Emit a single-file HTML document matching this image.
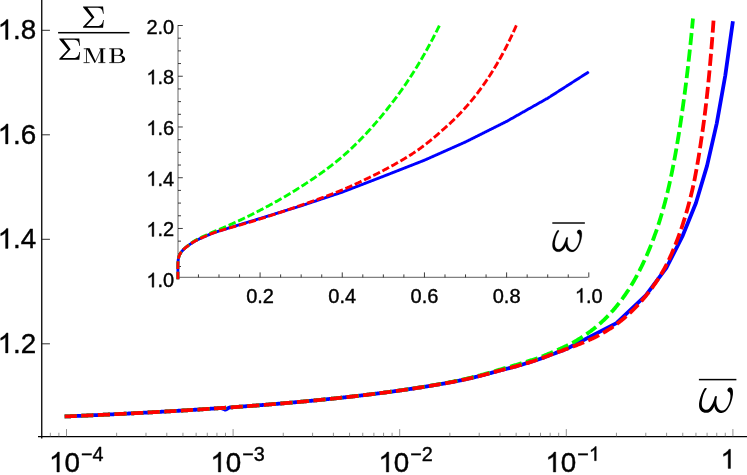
<!DOCTYPE html>
<html><head><meta charset="utf-8"><title>plot</title>
<style>html,body{margin:0;padding:0;background:#fff;}body{width:747px;height:475px;overflow:hidden;font-family:"Liberation Sans",sans-serif;}</style>
</head><body>
<svg width="747" height="475" viewBox="0 0 747 475" style="display:block">
<rect width="747" height="475" fill="#fff"/>
<g stroke="#000" stroke-width="1.3" fill="none"><line x1="41.75" y1="0" x2="41.75" y2="438.4"/><line x1="38" y1="436.65" x2="747" y2="436.65"/></g>
<g stroke="#5a5a5a" stroke-width="0.65" fill="none"><line x1="50.35" y1="436.65" x2="50.35" y2="432.75"/><line x1="58.88" y1="436.65" x2="58.88" y2="432.75"/><line x1="66.50" y1="436.65" x2="66.50" y2="429.05"/><line x1="116.65" y1="436.65" x2="116.65" y2="432.75"/><line x1="145.99" y1="436.65" x2="145.99" y2="432.75"/><line x1="166.80" y1="436.65" x2="166.80" y2="432.75"/><line x1="182.95" y1="436.65" x2="182.95" y2="432.75"/><line x1="196.14" y1="436.65" x2="196.14" y2="432.75"/><line x1="207.29" y1="436.65" x2="207.29" y2="432.75"/><line x1="216.95" y1="436.65" x2="216.95" y2="432.75"/><line x1="225.48" y1="436.65" x2="225.48" y2="432.75"/><line x1="233.10" y1="436.65" x2="233.10" y2="429.05"/><line x1="283.25" y1="436.65" x2="283.25" y2="432.75"/><line x1="312.59" y1="436.65" x2="312.59" y2="432.75"/><line x1="333.40" y1="436.65" x2="333.40" y2="432.75"/><line x1="349.55" y1="436.65" x2="349.55" y2="432.75"/><line x1="362.74" y1="436.65" x2="362.74" y2="432.75"/><line x1="373.89" y1="436.65" x2="373.89" y2="432.75"/><line x1="383.55" y1="436.65" x2="383.55" y2="432.75"/><line x1="392.08" y1="436.65" x2="392.08" y2="432.75"/><line x1="399.70" y1="436.65" x2="399.70" y2="429.05"/><line x1="449.85" y1="436.65" x2="449.85" y2="432.75"/><line x1="479.19" y1="436.65" x2="479.19" y2="432.75"/><line x1="500.00" y1="436.65" x2="500.00" y2="432.75"/><line x1="516.15" y1="436.65" x2="516.15" y2="432.75"/><line x1="529.34" y1="436.65" x2="529.34" y2="432.75"/><line x1="540.49" y1="436.65" x2="540.49" y2="432.75"/><line x1="550.15" y1="436.65" x2="550.15" y2="432.75"/><line x1="558.68" y1="436.65" x2="558.68" y2="432.75"/><line x1="566.30" y1="436.65" x2="566.30" y2="429.05"/><line x1="616.45" y1="436.65" x2="616.45" y2="432.75"/><line x1="645.79" y1="436.65" x2="645.79" y2="432.75"/><line x1="666.60" y1="436.65" x2="666.60" y2="432.75"/><line x1="682.75" y1="436.65" x2="682.75" y2="432.75"/><line x1="695.94" y1="436.65" x2="695.94" y2="432.75"/><line x1="707.09" y1="436.65" x2="707.09" y2="432.75"/><line x1="716.75" y1="436.65" x2="716.75" y2="432.75"/><line x1="725.28" y1="436.65" x2="725.28" y2="432.75"/><line x1="732.90" y1="436.65" x2="732.90" y2="429.05"/></g>
<g stroke="#1a1a1a" stroke-width="0.9" fill="none"><line x1="41.75" y1="343.80" x2="49.95" y2="343.80"/><line x1="41.75" y1="239.30" x2="49.95" y2="239.30"/><line x1="41.75" y1="134.80" x2="49.95" y2="134.80"/><line x1="41.75" y1="30.30" x2="49.95" y2="30.30"/></g>
<g fill="none" stroke-width="3.8" stroke-linejoin="round">
<path d="M64.67,416.50 L65.41,416.47 L66.15,416.44 L66.90,416.40 L67.64,416.37 L68.38,416.34 L69.13,416.31 L69.87,416.28 L70.61,416.24 L71.36,416.21 L72.10,416.18 L72.84,416.15 L73.59,416.11 L74.33,416.08 L75.07,416.05 L75.82,416.02 L76.56,415.98 L77.30,415.95 L78.05,415.92 L78.79,415.89 L79.53,415.85 L80.28,415.82 L81.02,415.79 L81.76,415.75 L82.51,415.72 L83.25,415.69 L83.99,415.65 L84.74,415.62 L85.48,415.59 L86.22,415.55 L86.97,415.52 L87.71,415.49 L88.45,415.45 L89.20,415.42 L89.94,415.38 L90.68,415.35 L91.43,415.32 L92.17,415.28 L92.91,415.25 L93.66,415.21 L94.40,415.18 L95.14,415.14 L95.89,415.11 L96.63,415.07 L97.37,415.04 L98.12,415.01 L98.86,414.97 L99.60,414.94 L100.35,414.90 L101.09,414.87 L101.83,414.83 L102.58,414.80 L103.32,414.76 L104.06,414.72 L104.81,414.69 L105.55,414.65 L106.29,414.62 L107.04,414.58 L107.78,414.55 L108.52,414.51 L109.27,414.48 L110.01,414.44 L110.75,414.40 L111.50,414.37 L112.24,414.33 L112.98,414.29 L113.73,414.26 L114.47,414.22 L115.21,414.19 L115.96,414.15 L116.70,414.11 L117.44,414.08 L118.19,414.04 L118.93,414.00 L119.67,413.97 L120.42,413.93 L121.16,413.89 L121.90,413.85 L122.65,413.82 L123.39,413.78 L124.13,413.74 L124.88,413.70 L125.62,413.67 L126.36,413.63 L127.11,413.59 L127.85,413.55 L128.59,413.52 L129.34,413.48 L130.08,413.44 L130.82,413.40 L131.57,413.36 L132.31,413.32 L133.05,413.29 L133.80,413.25 L134.54,413.21 L135.28,413.17 L136.03,413.13 L136.77,413.09 L137.51,413.05 L138.26,413.01 L139.00,412.98 L139.74,412.94 L140.49,412.90 L141.23,412.86 L141.97,412.82 L142.72,412.78 L143.46,412.74 L144.20,412.70 L144.95,412.66 L145.69,412.62 L146.43,412.58 L147.18,412.54 L147.92,412.50 L148.66,412.46 L149.41,412.42 L150.15,412.38 L150.89,412.34 L151.63,412.30 L152.38,412.26 L153.12,412.22 L153.86,412.17 L154.61,412.13 L155.35,412.09 L156.09,412.05 L156.84,412.01 L157.58,411.97 L158.32,411.93 L159.07,411.89 L159.81,411.84 L160.55,411.80 L161.30,411.76 L162.04,411.72 L162.78,411.68 L163.53,411.63 L164.27,411.59 L165.01,411.55 L165.76,411.51 L166.50,411.46 L167.24,411.42 L167.99,411.38 L168.73,411.34 L169.47,411.29 L170.22,411.25 L170.96,411.21 L171.70,411.16 L172.45,411.12 L173.19,411.08 L173.93,411.03 L174.68,410.99 L175.42,410.95 L176.16,410.90 L176.91,410.86 L177.65,410.82 L178.39,410.77 L179.14,410.73 L179.88,410.68 L180.62,410.64 L181.37,410.59 L182.11,410.55 L182.85,410.50 L183.60,410.46 L184.34,410.41 L185.08,410.37 L185.83,410.32 L186.57,410.28 L187.31,410.23 L188.06,410.19 L188.80,410.14 L189.54,410.10 L190.29,410.05 L191.03,410.00 L191.77,409.96 L192.52,409.91 L193.26,409.87 L194.00,409.82 L194.75,409.77 L195.49,409.73 L196.23,409.68 L196.98,409.63 L197.72,409.59 L198.46,409.54 L199.21,409.49 L199.95,409.44 L200.69,409.40 L201.44,409.35 L202.18,409.30 L202.92,409.25 L203.67,409.21 L204.41,409.16 L205.15,409.11 L205.90,409.06 L206.64,409.01 L207.38,408.96 L208.13,408.92 L208.87,408.87 L209.61,408.82 L210.36,408.77 L211.10,408.72 L211.84,408.67 L212.59,408.62 L213.33,408.57 L214.07,408.52 L214.82,408.47 L215.56,408.42 L216.30,408.37 L217.05,408.32 L217.79,408.27 L218.53,408.22 L219.28,408.17 L220.02,408.12 L220.76,408.07 L221.51,408.07 L222.25,408.39 L222.99,408.71 L223.74,409.03 L224.48,409.35 L225.22,409.67 L225.97,409.43 L226.71,409.01 L227.45,408.58 L228.20,408.16 L228.94,407.73 L229.68,407.45 L230.43,407.40 L231.17,407.35 L231.91,407.29 L232.66,407.24 L233.40,407.19 L234.14,407.14 L234.89,407.08 L235.63,407.03 L236.37,406.98 L237.12,406.92 L237.86,406.87 L238.60,406.81 L239.35,406.76 L240.09,406.71 L240.83,406.65 L241.57,406.60 L242.32,406.54 L243.06,406.49 L243.80,406.43 L244.55,406.38 L245.29,406.32 L246.03,406.27 L246.78,406.21 L247.52,406.16 L248.26,406.10 L249.01,406.04 L249.75,405.99 L250.49,405.93 L251.24,405.87 L251.98,405.82 L252.72,405.76 L253.47,405.70 L254.21,405.65 L254.95,405.59 L255.70,405.53 L256.44,405.48 L257.18,405.42 L257.93,405.36 L258.67,405.30 L259.41,405.24 L260.16,405.19 L260.90,405.13 L261.64,405.07 L262.39,405.01 L263.13,404.95 L263.87,404.89 L264.62,404.83 L265.36,404.77 L266.10,404.71 L266.85,404.65 L267.59,404.59 L268.33,404.53 L269.08,404.47 L269.82,404.41 L270.56,404.35 L271.31,404.29 L272.05,404.23 L272.79,404.17 L273.54,404.11 L274.28,404.05 L275.02,403.99 L275.77,403.93 L276.51,403.86 L277.25,403.80 L278.00,403.74 L278.74,403.68 L279.48,403.61 L280.23,403.55 L280.97,403.49 L281.71,403.43 L282.46,403.36 L283.20,403.30 L283.94,403.24 L284.69,403.17 L285.43,403.11 L286.17,403.04 L286.92,402.98 L287.66,402.91 L288.40,402.85 L289.15,402.78 L289.89,402.72 L290.63,402.65 L291.38,402.59 L292.12,402.52 L292.86,402.46 L293.61,402.39 L294.35,402.32 L295.09,402.26 L295.84,402.19 L296.58,402.13 L297.32,402.06 L298.07,401.99 L298.81,401.92 L299.55,401.86 L300.30,401.79 L301.04,401.72 L301.78,401.65 L302.53,401.58 L303.27,401.52 L304.01,401.45 L304.76,401.38 L305.50,401.31 L306.24,401.24 L306.99,401.17 L307.73,401.10 L308.47,401.03 L309.22,400.96 L309.96,400.89 L310.70,400.82 L311.45,400.75 L312.19,400.68 L312.93,400.60 L313.68,400.53 L314.42,400.46 L315.16,400.39 L315.91,400.32 L316.65,400.25 L317.39,400.17 L318.14,400.10 L318.88,400.03 L319.62,399.95 L320.37,399.88 L321.11,399.81 L321.85,399.73 L322.60,399.66 L323.34,399.58 L324.08,399.51 L324.83,399.43 L325.57,399.36 L326.31,399.28 L327.06,399.21 L327.80,399.13 L328.54,399.06 L329.29,398.98 L330.03,398.90 L330.77,398.83 L331.51,398.75 L332.26,398.67 L333.00,398.60 L333.74,398.52 L334.49,398.44 L335.23,398.36 L335.97,398.28 L336.72,398.21 L337.46,398.13 L338.20,398.05 L338.95,397.97 L339.69,397.89 L340.43,397.81 L341.18,397.73 L341.92,397.65 L342.66,397.57 L343.41,397.49 L344.15,397.41 L344.89,397.32 L345.64,397.24 L346.38,397.16 L347.12,397.08 L347.87,397.00 L348.61,396.91 L349.35,396.83 L350.10,396.75 L350.84,396.66 L351.58,396.58 L352.33,396.50 L353.07,396.41 L353.81,396.33 L354.56,396.24 L355.30,396.16 L356.04,396.07 L356.79,395.99 L357.53,395.90 L358.27,395.81 L359.02,395.73 L359.76,395.64 L360.50,395.55 L361.25,395.47 L361.99,395.38 L362.73,395.29 L363.48,395.20 L364.22,395.11 L364.96,395.02 L365.71,394.93 L366.45,394.84 L367.19,394.75 L367.94,394.66 L368.68,394.57 L369.42,394.48 L370.17,394.39 L370.91,394.30 L371.65,394.21 L372.40,394.12 L373.14,394.03 L373.88,393.93 L374.63,393.84 L375.37,393.75 L376.11,393.65 L376.86,393.56 L377.60,393.47 L378.34,393.37 L379.09,393.28 L379.83,393.18 L380.57,393.09 L381.32,392.99 L382.06,392.89 L382.80,392.80 L383.55,392.70 L384.29,392.60 L385.03,392.51 L385.78,392.41 L386.52,392.31 L387.26,392.21 L388.01,392.11 L388.75,392.01 L389.49,391.91 L390.24,391.81 L390.98,391.71 L391.72,391.61 L392.47,391.51 L393.21,391.41 L393.95,391.31 L394.70,391.21 L395.44,391.10 L396.18,391.00 L396.93,390.90 L397.67,390.79 L398.41,390.69 L399.16,390.59 L399.90,390.48 L400.64,390.38 L401.39,390.27 L402.13,390.16 L402.87,390.06 L403.62,389.95 L404.36,389.84 L405.10,389.74 L405.85,389.63 L406.59,389.52 L407.33,389.41 L408.08,389.30 L408.82,389.19 L409.56,389.08 L410.31,388.97 L411.05,388.86 L411.79,388.75 L412.54,388.64 L413.28,388.53 L414.02,388.42 L414.77,388.30 L415.51,388.19 L416.25,388.08 L417.00,387.96 L417.74,387.85 L418.48,387.73 L419.22,387.62 L419.97,387.50 L420.71,387.39 L421.45,387.27 L422.20,387.15 L422.94,387.03 L423.68,386.92 L424.43,386.80 L425.17,386.68 L425.91,386.56 L426.66,386.44 L427.40,386.32 L428.14,386.20 L428.89,386.08 L429.63,385.96 L430.37,385.83 L431.12,385.71 L431.86,385.59 L432.60,385.46 L433.35,385.34 L434.09,385.22 L434.83,385.09 L435.58,384.96 L436.32,384.84 L437.06,384.71 L437.81,384.58 L438.55,384.46 L439.29,384.33 L440.04,384.20 L440.78,384.07 L441.52,383.94 L442.27,383.81 L443.01,383.68 L443.75,383.55 L444.50,383.42 L445.24,383.29 L445.98,383.15 L446.73,383.02 L447.47,382.88 L448.21,382.75 L448.96,382.62 L449.70,382.48 L450.44,382.34 L451.19,382.20 L451.93,382.06 L452.67,381.92 L453.42,381.77 L454.16,381.63 L454.90,381.48 L455.65,381.34 L456.39,381.19 L457.13,381.04 L457.88,380.89 L458.62,380.74 L459.36,380.59 L460.11,380.43 L460.85,380.28 L461.59,380.12 L462.34,379.96 L463.08,379.81 L463.82,379.65 L464.57,379.49 L465.31,379.32 L466.05,379.16 L466.80,379.00 L467.54,378.83 L468.28,378.66 L469.03,378.50 L469.77,378.33 L470.51,378.16 L471.26,377.98 L472.00,377.81 L472.74,377.64 L473.49,377.46 L474.23,377.29 L474.97,377.11 L475.72,376.93 L476.46,376.75 L477.20,376.57 L477.95,376.39 L478.69,376.21 L479.43,376.02 L480.18,375.84 L480.92,375.65 L481.66,375.46 L482.41,375.27 L483.15,375.07 L483.89,374.88 L484.64,374.68 L485.38,374.48 L486.12,374.28 L486.87,374.08 L487.61,373.87 L488.35,373.67 L489.10,373.46 L489.84,373.26 L490.58,373.05 L491.33,372.84 L492.07,372.64 L492.81,372.43 L493.56,372.22 L494.30,372.01 L495.04,371.80 L495.79,371.60 L496.53,371.39 L497.27,371.19 L498.02,370.98 L498.76,370.78 L499.50,370.58 L500.25,370.38 L500.99,370.19 L501.73,369.99 L502.48,369.80 L503.22,369.61 L503.96,369.42 L504.71,369.23 L505.45,369.04 L506.19,368.85 L506.94,368.66 L507.68,368.48 L508.42,368.29 L509.16,368.10 L509.91,367.91 L510.65,367.72 L511.39,367.53 L512.14,367.34 L512.88,367.15 L513.62,366.95 L514.37,366.75 L515.11,366.55 L515.85,366.35 L516.60,366.14 L517.34,365.93 L518.08,365.72 L518.83,365.51 L519.57,365.29 L520.31,365.08 L521.06,364.86 L521.80,364.64 L522.54,364.42 L523.29,364.20 L524.03,363.98 L524.77,363.76 L525.52,363.53 L526.26,363.30 L527.00,363.08 L527.75,362.85 L528.49,362.61 L529.23,362.38 L529.98,362.15 L530.72,361.91 L531.46,361.68 L532.21,361.44 L532.95,361.21 L533.69,360.97 L534.44,360.73 L535.18,360.49 L535.92,360.24 L536.67,360.00 L537.41,359.75 L538.15,359.50 L538.90,359.25 L539.64,358.99 L540.38,358.73 L541.13,358.46 L541.87,358.19 L542.61,357.92 L543.36,357.64 L544.10,357.36 L544.84,357.07 L545.59,356.79 L546.33,356.50 L547.07,356.21 L547.82,355.92 L548.56,355.64 L549.30,355.35 L550.05,355.07 L550.79,354.80 L551.53,354.52 L552.28,354.25 L553.02,353.98 L553.76,353.70 L554.51,353.43 L555.25,353.16 L555.99,352.89 L556.74,352.62 L557.48,352.34 L558.22,352.07 L558.97,351.79 L559.71,351.51 L560.45,351.23 L561.20,350.96 L561.94,350.68 L562.68,350.40 L563.43,350.12 L564.17,349.84 L564.91,349.55 L565.66,349.27 L566.30,349.03 L616.45,323.16 L645.79,295.47 L666.60,267.51 L682.75,235.54 L695.94,202.99 L707.09,165.63 L716.75,123.30 L725.28,75.50 L732.90,21.31" stroke="#0000ff"/>
<path d="M64.67,416.50 L65.41,416.47 L66.15,416.44 L66.90,416.40 L67.64,416.37 L68.38,416.34 L69.13,416.31 L69.87,416.28 L70.61,416.24 L71.36,416.21 L72.10,416.18 L72.84,416.15 L73.59,416.11 L74.33,416.08 L75.07,416.05 L75.82,416.02 L76.56,415.98 L77.30,415.95 L78.05,415.92 L78.79,415.89 L79.53,415.85 L80.28,415.82 L81.02,415.79 L81.76,415.75 L82.51,415.72 L83.25,415.69 L83.99,415.65 L84.74,415.62 L85.48,415.59 L86.22,415.55 L86.97,415.52 L87.71,415.49 L88.45,415.45 L89.20,415.42 L89.94,415.38 L90.68,415.35 L91.43,415.32 L92.17,415.28 L92.91,415.25 L93.66,415.21 L94.40,415.18 L95.14,415.14 L95.89,415.11 L96.63,415.07 L97.37,415.04 L98.12,415.01 L98.86,414.97 L99.60,414.94 L100.35,414.90 L101.09,414.87 L101.83,414.83 L102.58,414.80 L103.32,414.76 L104.06,414.72 L104.81,414.69 L105.55,414.65 L106.29,414.62 L107.04,414.58 L107.78,414.55 L108.52,414.51 L109.27,414.48 L110.01,414.44 L110.75,414.40 L111.50,414.37 L112.24,414.33 L112.98,414.29 L113.73,414.26 L114.47,414.22 L115.21,414.19 L115.96,414.15 L116.70,414.11 L117.44,414.08 L118.19,414.04 L118.93,414.00 L119.67,413.97 L120.42,413.93 L121.16,413.89 L121.90,413.85 L122.65,413.82 L123.39,413.78 L124.13,413.74 L124.88,413.70 L125.62,413.67 L126.36,413.63 L127.11,413.59 L127.85,413.55 L128.59,413.52 L129.34,413.48 L130.08,413.44 L130.82,413.40 L131.57,413.36 L132.31,413.32 L133.05,413.29 L133.80,413.25 L134.54,413.21 L135.28,413.17 L136.03,413.13 L136.77,413.09 L137.51,413.05 L138.26,413.01 L139.00,412.98 L139.74,412.94 L140.49,412.90 L141.23,412.86 L141.97,412.82 L142.72,412.78 L143.46,412.74 L144.20,412.70 L144.95,412.66 L145.69,412.62 L146.43,412.58 L147.18,412.54 L147.92,412.50 L148.66,412.46 L149.41,412.42 L150.15,412.38 L150.89,412.34 L151.63,412.30 L152.38,412.26 L153.12,412.22 L153.86,412.17 L154.61,412.13 L155.35,412.09 L156.09,412.05 L156.84,412.01 L157.58,411.97 L158.32,411.93 L159.07,411.89 L159.81,411.84 L160.55,411.80 L161.30,411.76 L162.04,411.72 L162.78,411.68 L163.53,411.63 L164.27,411.59 L165.01,411.55 L165.76,411.51 L166.50,411.46 L167.24,411.42 L167.99,411.38 L168.73,411.34 L169.47,411.29 L170.22,411.25 L170.96,411.21 L171.70,411.16 L172.45,411.12 L173.19,411.08 L173.93,411.03 L174.68,410.99 L175.42,410.95 L176.16,410.90 L176.91,410.86 L177.65,410.81 L178.39,410.77 L179.14,410.73 L179.88,410.68 L180.62,410.64 L181.37,410.59 L182.11,410.55 L182.85,410.50 L183.60,410.46 L184.34,410.41 L185.08,410.37 L185.83,410.32 L186.57,410.28 L187.31,410.23 L188.06,410.19 L188.80,410.14 L189.54,410.10 L190.29,410.05 L191.03,410.00 L191.77,409.96 L192.52,409.91 L193.26,409.87 L194.00,409.82 L194.75,409.77 L195.49,409.73 L196.23,409.68 L196.98,409.63 L197.72,409.59 L198.46,409.54 L199.21,409.49 L199.95,409.44 L200.69,409.40 L201.44,409.35 L202.18,409.30 L202.92,409.25 L203.67,409.21 L204.41,409.16 L205.15,409.11 L205.90,409.06 L206.64,409.01 L207.38,408.96 L208.13,408.92 L208.87,408.87 L209.61,408.82 L210.36,408.77 L211.10,408.72 L211.84,408.67 L212.59,408.62 L213.33,408.57 L214.07,408.52 L214.82,408.47 L215.56,408.42 L216.30,408.37 L217.05,408.32 L217.79,408.27 L218.53,408.22 L219.28,408.17 L220.02,408.12 L220.76,408.07 L221.51,408.02 L222.25,407.97 L222.99,407.92 L223.74,407.87 L224.48,407.81 L225.22,407.76 L225.97,407.71 L226.71,407.66 L227.45,407.61 L228.20,407.56 L228.94,407.50 L229.68,407.45 L230.43,407.40 L231.17,407.35 L231.91,407.29 L232.66,407.24 L233.40,407.19 L234.14,407.13 L234.89,407.08 L235.63,407.03 L236.37,406.97 L237.12,406.92 L237.86,406.87 L238.60,406.81 L239.35,406.76 L240.09,406.70 L240.83,406.65 L241.57,406.60 L242.32,406.54 L243.06,406.49 L243.80,406.43 L244.55,406.38 L245.29,406.32 L246.03,406.27 L246.78,406.21 L247.52,406.15 L248.26,406.10 L249.01,406.04 L249.75,405.99 L250.49,405.93 L251.24,405.87 L251.98,405.82 L252.72,405.76 L253.47,405.70 L254.21,405.65 L254.95,405.59 L255.70,405.53 L256.44,405.47 L257.18,405.42 L257.93,405.36 L258.67,405.30 L259.41,405.24 L260.16,405.18 L260.90,405.13 L261.64,405.07 L262.39,405.01 L263.13,404.95 L263.87,404.89 L264.62,404.83 L265.36,404.77 L266.10,404.71 L266.85,404.65 L267.59,404.59 L268.33,404.53 L269.08,404.47 L269.82,404.41 L270.56,404.35 L271.31,404.29 L272.05,404.23 L272.79,404.17 L273.54,404.11 L274.28,404.05 L275.02,403.99 L275.77,403.92 L276.51,403.86 L277.25,403.80 L278.00,403.74 L278.74,403.67 L279.48,403.61 L280.23,403.55 L280.97,403.49 L281.71,403.42 L282.46,403.36 L283.20,403.30 L283.94,403.23 L284.69,403.17 L285.43,403.10 L286.17,403.04 L286.92,402.98 L287.66,402.91 L288.40,402.85 L289.15,402.78 L289.89,402.72 L290.63,402.65 L291.38,402.59 L292.12,402.52 L292.86,402.45 L293.61,402.39 L294.35,402.32 L295.09,402.26 L295.84,402.19 L296.58,402.12 L297.32,402.05 L298.07,401.99 L298.81,401.92 L299.55,401.85 L300.30,401.78 L301.04,401.72 L301.78,401.65 L302.53,401.58 L303.27,401.51 L304.01,401.44 L304.76,401.37 L305.50,401.30 L306.24,401.23 L306.99,401.16 L307.73,401.09 L308.47,401.02 L309.22,400.95 L309.96,400.88 L310.70,400.81 L311.45,400.74 L312.19,400.67 L312.93,400.60 L313.68,400.53 L314.42,400.46 L315.16,400.38 L315.91,400.31 L316.65,400.24 L317.39,400.17 L318.14,400.09 L318.88,400.02 L319.62,399.95 L320.37,399.87 L321.11,399.80 L321.85,399.73 L322.60,399.65 L323.34,399.58 L324.08,399.50 L324.83,399.43 L325.57,399.35 L326.31,399.28 L327.06,399.20 L327.80,399.12 L328.54,399.05 L329.29,398.97 L330.03,398.90 L330.77,398.82 L331.51,398.74 L332.26,398.66 L333.00,398.59 L333.74,398.51 L334.49,398.43 L335.23,398.35 L335.97,398.27 L336.72,398.19 L337.46,398.12 L338.20,398.04 L338.95,397.96 L339.69,397.88 L340.43,397.80 L341.18,397.72 L341.92,397.64 L342.66,397.56 L343.41,397.47 L344.15,397.39 L344.89,397.31 L345.64,397.23 L346.38,397.15 L347.12,397.06 L347.87,396.98 L348.61,396.90 L349.35,396.82 L350.10,396.73 L350.84,396.65 L351.58,396.56 L352.33,396.48 L353.07,396.39 L353.81,396.31 L354.56,396.22 L355.30,396.14 L356.04,396.05 L356.79,395.97 L357.53,395.88 L358.27,395.79 L359.02,395.71 L359.76,395.62 L360.50,395.53 L361.25,395.44 L361.99,395.36 L362.73,395.27 L363.48,395.18 L364.22,395.09 L364.96,395.00 L365.71,394.91 L366.45,394.82 L367.19,394.73 L367.94,394.64 L368.68,394.55 L369.42,394.46 L370.17,394.37 L370.91,394.27 L371.65,394.18 L372.40,394.09 L373.14,394.00 L373.88,393.90 L374.63,393.81 L375.37,393.72 L376.11,393.62 L376.86,393.53 L377.60,393.43 L378.34,393.34 L379.09,393.24 L379.83,393.15 L380.57,393.05 L381.32,392.95 L382.06,392.86 L382.80,392.76 L383.55,392.66 L384.29,392.56 L385.03,392.46 L385.78,392.37 L386.52,392.27 L387.26,392.17 L388.01,392.07 L388.75,391.97 L389.49,391.87 L390.24,391.77 L390.98,391.66 L391.72,391.56 L392.47,391.46 L393.21,391.36 L393.95,391.26 L394.70,391.15 L395.44,391.05 L396.18,390.94 L396.93,390.84 L397.67,390.74 L398.41,390.63 L399.16,390.53 L399.90,390.42 L400.64,390.31 L401.39,390.21 L402.13,390.10 L402.87,389.99 L403.62,389.88 L404.36,389.77 L405.10,389.67 L405.85,389.56 L406.59,389.45 L407.33,389.34 L408.08,389.23 L408.82,389.12 L409.56,389.00 L410.31,388.89 L411.05,388.78 L411.79,388.67 L412.54,388.55 L413.28,388.44 L414.02,388.33 L414.77,388.21 L415.51,388.10 L416.25,387.98 L417.00,387.87 L417.74,387.75 L418.48,387.63 L419.22,387.51 L419.97,387.40 L420.71,387.28 L421.45,387.16 L422.20,387.04 L422.94,386.92 L423.68,386.80 L424.43,386.68 L425.17,386.56 L425.91,386.44 L426.66,386.31 L427.40,386.19 L428.14,386.07 L428.89,385.94 L429.63,385.82 L430.37,385.69 L431.12,385.57 L431.86,385.44 L432.60,385.31 L433.35,385.19 L434.09,385.06 L434.83,384.93 L435.58,384.80 L436.32,384.67 L437.06,384.54 L437.81,384.41 L438.55,384.28 L439.29,384.15 L440.04,384.02 L440.78,383.88 L441.52,383.75 L442.27,383.62 L443.01,383.48 L443.75,383.35 L444.50,383.21 L445.24,383.07 L445.98,382.94 L446.73,382.80 L447.47,382.66 L448.21,382.52 L448.96,382.38 L449.70,382.24 L450.44,382.10 L451.19,381.95 L451.93,381.81 L452.67,381.66 L453.42,381.51 L454.16,381.36 L454.90,381.21 L455.65,381.06 L456.39,380.90 L457.13,380.75 L457.88,380.59 L458.62,380.44 L459.36,380.28 L460.11,380.12 L460.85,379.96 L461.59,379.79 L462.34,379.63 L463.08,379.46 L463.82,379.30 L464.57,379.13 L465.31,378.96 L466.05,378.79 L466.80,378.62 L467.54,378.44 L468.28,378.27 L469.03,378.09 L469.77,377.92 L470.51,377.74 L471.26,377.56 L472.00,377.38 L472.74,377.19 L473.49,377.01 L474.23,376.83 L474.97,376.64 L475.72,376.45 L476.46,376.26 L477.20,376.07 L477.95,375.88 L478.69,375.69 L479.43,375.49 L480.18,375.29 L480.92,375.09 L481.66,374.89 L482.41,374.69 L483.15,374.48 L483.89,374.28 L484.64,374.07 L485.38,373.86 L486.12,373.64 L486.87,373.43 L487.61,373.21 L488.35,372.99 L489.10,372.78 L489.84,372.56 L490.58,372.33 L491.33,372.11 L492.07,371.89 L492.81,371.67 L493.56,371.44 L494.30,371.22 L495.04,371.00 L495.79,370.77 L496.53,370.55 L497.27,370.33 L498.02,370.11 L498.76,369.89 L499.50,369.67 L500.25,369.46 L500.99,369.24 L501.73,369.03 L502.48,368.82 L503.22,368.60 L503.96,368.39 L504.71,368.18 L505.45,367.97 L506.19,367.77 L506.94,367.56 L507.68,367.35 L508.42,367.14 L509.16,366.93 L509.91,366.71 L510.65,366.50 L511.39,366.29 L512.14,366.07 L512.88,365.85 L513.62,365.63 L514.37,365.41 L515.11,365.18 L515.85,364.95 L516.60,364.73 L517.34,364.52 L518.08,364.30 L518.83,364.09 L519.57,363.87 L520.31,363.66 L521.06,363.44 L521.80,363.21 L522.54,362.99 L523.29,362.77 L524.03,362.54 L524.77,362.31 L525.52,362.08 L526.26,361.85 L527.00,361.62 L527.75,361.38 L528.49,361.14 L529.23,360.90 L529.98,360.66 L530.72,360.42 L531.46,360.18 L532.21,359.94 L532.95,359.69 L533.69,359.44 L534.44,359.19 L535.18,358.94 L535.92,358.69 L536.67,358.43 L537.41,358.17 L538.15,357.91 L538.90,357.64 L539.64,357.37 L540.38,357.10 L541.13,356.82 L541.87,356.53 L542.61,356.24 L543.36,355.95 L544.10,355.65 L544.84,355.35 L545.59,355.04 L546.33,354.73 L547.07,354.43 L547.82,354.12 L548.56,353.81 L549.30,353.51 L550.05,353.20 L550.79,352.88 L551.53,352.56 L552.28,352.24 L553.02,351.92 L553.76,351.60 L554.51,351.28 L555.25,350.95 L555.99,350.63 L556.74,350.30 L557.48,349.98 L558.22,349.64 L558.97,349.31 L559.71,348.97 L560.45,348.64 L561.20,348.30 L561.94,347.95 L562.68,347.61 L563.43,347.26 L564.17,346.91 L564.91,346.56 L565.66,346.21 L566.40,345.86 L567.14,345.50 L567.89,345.14 L568.63,344.77 L569.37,344.40 L570.12,344.03 L570.86,343.65 L571.60,343.27 L572.35,342.89 L573.09,342.50 L573.83,342.08 L574.58,341.65 L575.32,341.22 L576.06,340.78 L576.81,340.34 L577.55,339.89 L578.29,339.44 L579.04,338.98 L579.78,338.52 L580.52,338.05 L581.27,337.58 L582.01,337.10 L582.75,336.62 L583.50,336.13 L584.24,335.63 L584.98,335.13 L585.73,334.63 L586.47,334.12 L587.21,333.60 L587.96,333.08 L588.70,332.55 L589.44,332.01 L590.19,331.47 L590.93,330.93 L591.67,330.37 L592.42,329.81 L593.16,329.24 L593.90,328.67 L594.65,328.08 L595.39,327.49 L596.13,326.88 L596.88,326.26 L597.62,325.63 L598.36,324.99 L599.10,324.35 L599.85,323.69 L600.59,323.03 L601.33,322.35 L602.08,321.67 L602.82,320.98 L603.56,320.28 L604.31,319.57 L605.05,318.84 L605.79,318.11 L606.54,317.37 L607.28,316.62 L608.02,315.85 L608.77,315.07 L609.51,314.29 L610.25,313.49 L611.00,312.67 L611.74,311.85 L612.48,311.01 L613.23,310.16 L613.97,309.29 L614.71,308.41 L615.46,307.52 L616.20,306.61 L616.94,305.70 L617.69,304.79 L618.43,303.87 L619.17,302.93 L619.92,301.97 L620.66,301.00 L621.40,300.02 L622.15,299.02 L622.89,298.00 L623.63,296.97 L624.38,295.93 L625.12,294.86 L625.86,293.78 L626.61,292.69 L627.35,291.57 L628.09,290.44 L628.84,289.29 L629.58,288.12 L630.32,286.94 L631.07,285.73 L631.81,284.51 L632.55,283.27 L633.30,282.00 L634.04,280.72 L634.78,279.42 L635.53,278.10 L636.27,276.75 L637.01,275.39 L637.76,274.00 L638.50,272.59 L639.24,271.16 L639.99,269.70 L640.73,268.22 L641.47,266.72 L642.22,265.19 L642.96,263.64 L643.70,262.06 L644.45,260.46 L645.19,258.83 L645.93,257.18 L646.68,255.49 L647.42,253.78 L648.16,252.05 L648.91,250.28 L649.65,248.49 L650.39,246.66 L651.14,244.80 L651.88,242.91 L652.62,240.98 L653.37,239.01 L654.11,237.01 L654.85,234.97 L655.60,232.89 L656.34,230.76 L657.08,228.59 L657.83,226.38 L658.57,224.12 L659.31,221.81 L660.06,219.44 L660.80,217.02 L661.54,214.55 L662.29,212.02 L663.03,209.42 L663.77,206.77 L664.52,204.04 L665.26,201.25 L666.00,198.39 L666.75,195.44 L667.49,192.36 L668.23,189.19 L668.98,185.95 L669.72,182.62 L670.46,179.20 L671.21,175.70 L671.95,172.10 L672.69,168.41 L673.44,164.62 L674.18,160.73 L674.92,156.74 L675.67,152.64 L676.41,148.44 L677.15,144.12 L677.90,139.69 L678.64,135.14 L679.38,130.47 L680.13,125.67 L680.87,120.75 L681.61,115.69 L682.36,110.50 L683.10,105.20 L683.84,99.80 L684.59,94.25 L685.33,88.55 L686.07,82.67 L686.82,76.62 L687.56,70.39 L688.30,63.96 L689.04,57.34 L689.79,50.50 L690.53,43.44 L691.27,36.14 L692.02,28.61 L692.76,20.82 L692.97,18.54" stroke="#00ff00" stroke-dasharray="12.1 4.542"/>
<path d="M64.67,416.50 L65.41,416.47 L66.15,416.44 L66.90,416.40 L67.64,416.37 L68.38,416.34 L69.13,416.31 L69.87,416.28 L70.61,416.24 L71.36,416.21 L72.10,416.18 L72.84,416.15 L73.59,416.11 L74.33,416.08 L75.07,416.05 L75.82,416.02 L76.56,415.98 L77.30,415.95 L78.05,415.92 L78.79,415.89 L79.53,415.85 L80.28,415.82 L81.02,415.79 L81.76,415.75 L82.51,415.72 L83.25,415.69 L83.99,415.65 L84.74,415.62 L85.48,415.59 L86.22,415.55 L86.97,415.52 L87.71,415.49 L88.45,415.45 L89.20,415.42 L89.94,415.38 L90.68,415.35 L91.43,415.32 L92.17,415.28 L92.91,415.25 L93.66,415.21 L94.40,415.18 L95.14,415.14 L95.89,415.11 L96.63,415.07 L97.37,415.04 L98.12,415.01 L98.86,414.97 L99.60,414.94 L100.35,414.90 L101.09,414.87 L101.83,414.83 L102.58,414.80 L103.32,414.76 L104.06,414.72 L104.81,414.69 L105.55,414.65 L106.29,414.62 L107.04,414.58 L107.78,414.55 L108.52,414.51 L109.27,414.48 L110.01,414.44 L110.75,414.40 L111.50,414.37 L112.24,414.33 L112.98,414.29 L113.73,414.26 L114.47,414.22 L115.21,414.19 L115.96,414.15 L116.70,414.11 L117.44,414.08 L118.19,414.04 L118.93,414.00 L119.67,413.97 L120.42,413.93 L121.16,413.89 L121.90,413.85 L122.65,413.82 L123.39,413.78 L124.13,413.74 L124.88,413.70 L125.62,413.67 L126.36,413.63 L127.11,413.59 L127.85,413.55 L128.59,413.52 L129.34,413.48 L130.08,413.44 L130.82,413.40 L131.57,413.36 L132.31,413.32 L133.05,413.29 L133.80,413.25 L134.54,413.21 L135.28,413.17 L136.03,413.13 L136.77,413.09 L137.51,413.05 L138.26,413.01 L139.00,412.98 L139.74,412.94 L140.49,412.90 L141.23,412.86 L141.97,412.82 L142.72,412.78 L143.46,412.74 L144.20,412.70 L144.95,412.66 L145.69,412.62 L146.43,412.58 L147.18,412.54 L147.92,412.50 L148.66,412.46 L149.41,412.42 L150.15,412.38 L150.89,412.34 L151.63,412.30 L152.38,412.26 L153.12,412.22 L153.86,412.17 L154.61,412.13 L155.35,412.09 L156.09,412.05 L156.84,412.01 L157.58,411.97 L158.32,411.93 L159.07,411.89 L159.81,411.84 L160.55,411.80 L161.30,411.76 L162.04,411.72 L162.78,411.68 L163.53,411.63 L164.27,411.59 L165.01,411.55 L165.76,411.51 L166.50,411.46 L167.24,411.42 L167.99,411.38 L168.73,411.34 L169.47,411.29 L170.22,411.25 L170.96,411.21 L171.70,411.16 L172.45,411.12 L173.19,411.08 L173.93,411.03 L174.68,410.99 L175.42,410.95 L176.16,410.90 L176.91,410.86 L177.65,410.82 L178.39,410.77 L179.14,410.73 L179.88,410.68 L180.62,410.64 L181.37,410.59 L182.11,410.55 L182.85,410.50 L183.60,410.46 L184.34,410.41 L185.08,410.37 L185.83,410.32 L186.57,410.28 L187.31,410.23 L188.06,410.19 L188.80,410.14 L189.54,410.10 L190.29,410.05 L191.03,410.00 L191.77,409.96 L192.52,409.91 L193.26,409.87 L194.00,409.82 L194.75,409.77 L195.49,409.73 L196.23,409.68 L196.98,409.63 L197.72,409.59 L198.46,409.54 L199.21,409.49 L199.95,409.44 L200.69,409.40 L201.44,409.35 L202.18,409.30 L202.92,409.25 L203.67,409.21 L204.41,409.16 L205.15,409.11 L205.90,409.06 L206.64,409.01 L207.38,408.96 L208.13,408.92 L208.87,408.87 L209.61,408.82 L210.36,408.77 L211.10,408.72 L211.84,408.67 L212.59,408.62 L213.33,408.57 L214.07,408.52 L214.82,408.47 L215.56,408.42 L216.30,408.37 L217.05,408.32 L217.79,408.27 L218.53,408.22 L219.28,408.17 L220.02,408.12 L220.76,408.07 L221.51,408.02 L222.25,407.97 L222.99,407.92 L223.74,407.87 L224.48,407.81 L225.22,407.76 L225.97,407.71 L226.71,407.66 L227.45,407.61 L228.20,407.56 L228.94,407.50 L229.68,407.45 L230.43,407.40 L231.17,407.35 L231.91,407.29 L232.66,407.24 L233.40,407.19 L234.14,407.14 L234.89,407.08 L235.63,407.03 L236.37,406.98 L237.12,406.92 L237.86,406.87 L238.60,406.81 L239.35,406.76 L240.09,406.71 L240.83,406.65 L241.57,406.60 L242.32,406.54 L243.06,406.49 L243.80,406.43 L244.55,406.38 L245.29,406.32 L246.03,406.27 L246.78,406.21 L247.52,406.16 L248.26,406.10 L249.01,406.04 L249.75,405.99 L250.49,405.93 L251.24,405.87 L251.98,405.82 L252.72,405.76 L253.47,405.70 L254.21,405.65 L254.95,405.59 L255.70,405.53 L256.44,405.48 L257.18,405.42 L257.93,405.36 L258.67,405.30 L259.41,405.24 L260.16,405.19 L260.90,405.13 L261.64,405.07 L262.39,405.01 L263.13,404.95 L263.87,404.89 L264.62,404.83 L265.36,404.77 L266.10,404.71 L266.85,404.65 L267.59,404.59 L268.33,404.53 L269.08,404.47 L269.82,404.41 L270.56,404.35 L271.31,404.29 L272.05,404.23 L272.79,404.17 L273.54,404.11 L274.28,404.05 L275.02,403.99 L275.77,403.93 L276.51,403.86 L277.25,403.80 L278.00,403.74 L278.74,403.68 L279.48,403.61 L280.23,403.55 L280.97,403.49 L281.71,403.43 L282.46,403.36 L283.20,403.30 L283.94,403.24 L284.69,403.17 L285.43,403.11 L286.17,403.04 L286.92,402.98 L287.66,402.91 L288.40,402.85 L289.15,402.78 L289.89,402.72 L290.63,402.65 L291.38,402.59 L292.12,402.52 L292.86,402.46 L293.61,402.39 L294.35,402.32 L295.09,402.26 L295.84,402.19 L296.58,402.13 L297.32,402.06 L298.07,401.99 L298.81,401.92 L299.55,401.86 L300.30,401.79 L301.04,401.72 L301.78,401.65 L302.53,401.58 L303.27,401.52 L304.01,401.45 L304.76,401.38 L305.50,401.31 L306.24,401.24 L306.99,401.17 L307.73,401.10 L308.47,401.03 L309.22,400.96 L309.96,400.89 L310.70,400.82 L311.45,400.75 L312.19,400.68 L312.93,400.60 L313.68,400.53 L314.42,400.46 L315.16,400.39 L315.91,400.32 L316.65,400.25 L317.39,400.17 L318.14,400.10 L318.88,400.03 L319.62,399.95 L320.37,399.88 L321.11,399.81 L321.85,399.73 L322.60,399.66 L323.34,399.58 L324.08,399.51 L324.83,399.43 L325.57,399.36 L326.31,399.28 L327.06,399.21 L327.80,399.13 L328.54,399.06 L329.29,398.98 L330.03,398.90 L330.77,398.83 L331.51,398.75 L332.26,398.67 L333.00,398.60 L333.74,398.52 L334.49,398.44 L335.23,398.36 L335.97,398.28 L336.72,398.21 L337.46,398.13 L338.20,398.05 L338.95,397.97 L339.69,397.89 L340.43,397.81 L341.18,397.73 L341.92,397.65 L342.66,397.57 L343.41,397.49 L344.15,397.41 L344.89,397.32 L345.64,397.24 L346.38,397.16 L347.12,397.08 L347.87,397.00 L348.61,396.91 L349.35,396.83 L350.10,396.75 L350.84,396.66 L351.58,396.58 L352.33,396.50 L353.07,396.41 L353.81,396.33 L354.56,396.24 L355.30,396.16 L356.04,396.07 L356.79,395.99 L357.53,395.90 L358.27,395.81 L359.02,395.73 L359.76,395.64 L360.50,395.55 L361.25,395.47 L361.99,395.38 L362.73,395.29 L363.48,395.20 L364.22,395.11 L364.96,395.02 L365.71,394.93 L366.45,394.84 L367.19,394.75 L367.94,394.66 L368.68,394.57 L369.42,394.48 L370.17,394.39 L370.91,394.30 L371.65,394.21 L372.40,394.12 L373.14,394.03 L373.88,393.93 L374.63,393.84 L375.37,393.75 L376.11,393.65 L376.86,393.56 L377.60,393.47 L378.34,393.37 L379.09,393.28 L379.83,393.18 L380.57,393.09 L381.32,392.99 L382.06,392.89 L382.80,392.80 L383.55,392.70 L384.29,392.60 L385.03,392.51 L385.78,392.41 L386.52,392.31 L387.26,392.21 L388.01,392.11 L388.75,392.01 L389.49,391.91 L390.24,391.81 L390.98,391.71 L391.72,391.61 L392.47,391.51 L393.21,391.41 L393.95,391.31 L394.70,391.21 L395.44,391.10 L396.18,391.00 L396.93,390.90 L397.67,390.79 L398.41,390.69 L399.16,390.59 L399.90,390.48 L400.64,390.38 L401.39,390.27 L402.13,390.16 L402.87,390.06 L403.62,389.95 L404.36,389.84 L405.10,389.74 L405.85,389.63 L406.59,389.52 L407.33,389.41 L408.08,389.30 L408.82,389.19 L409.56,389.08 L410.31,388.97 L411.05,388.86 L411.79,388.75 L412.54,388.64 L413.28,388.53 L414.02,388.42 L414.77,388.30 L415.51,388.19 L416.25,388.08 L417.00,387.96 L417.74,387.85 L418.48,387.73 L419.22,387.62 L419.97,387.50 L420.71,387.39 L421.45,387.27 L422.20,387.15 L422.94,387.03 L423.68,386.92 L424.43,386.80 L425.17,386.68 L425.91,386.56 L426.66,386.44 L427.40,386.32 L428.14,386.20 L428.89,386.08 L429.63,385.96 L430.37,385.83 L431.12,385.71 L431.86,385.59 L432.60,385.46 L433.35,385.34 L434.09,385.22 L434.83,385.09 L435.58,384.96 L436.32,384.84 L437.06,384.71 L437.81,384.58 L438.55,384.46 L439.29,384.33 L440.04,384.20 L440.78,384.07 L441.52,383.94 L442.27,383.81 L443.01,383.68 L443.75,383.55 L444.50,383.42 L445.24,383.29 L445.98,383.15 L446.73,383.02 L447.47,382.88 L448.21,382.75 L448.96,382.62 L449.70,382.48 L450.44,382.34 L451.19,382.20 L451.93,382.06 L452.67,381.92 L453.42,381.77 L454.16,381.63 L454.90,381.48 L455.65,381.34 L456.39,381.19 L457.13,381.04 L457.88,380.89 L458.62,380.74 L459.36,380.59 L460.11,380.43 L460.85,380.28 L461.59,380.12 L462.34,379.96 L463.08,379.81 L463.82,379.65 L464.57,379.49 L465.31,379.32 L466.05,379.16 L466.80,379.00 L467.54,378.83 L468.28,378.66 L469.03,378.50 L469.77,378.33 L470.51,378.16 L471.26,377.98 L472.00,377.81 L472.74,377.64 L473.49,377.46 L474.23,377.29 L474.97,377.11 L475.72,376.93 L476.46,376.75 L477.20,376.57 L477.95,376.39 L478.69,376.21 L479.43,376.02 L480.18,375.84 L480.92,375.65 L481.66,375.46 L482.41,375.27 L483.15,375.07 L483.89,374.88 L484.64,374.68 L485.38,374.48 L486.12,374.28 L486.87,374.08 L487.61,373.87 L488.35,373.67 L489.10,373.46 L489.84,373.26 L490.58,373.05 L491.33,372.84 L492.07,372.64 L492.81,372.43 L493.56,372.22 L494.30,372.01 L495.04,371.80 L495.79,371.60 L496.53,371.39 L497.27,371.19 L498.02,370.98 L498.76,370.78 L499.50,370.58 L500.25,370.38 L500.99,370.19 L501.73,369.99 L502.48,369.80 L503.22,369.61 L503.96,369.42 L504.71,369.23 L505.45,369.04 L506.19,368.85 L506.94,368.66 L507.68,368.48 L508.42,368.29 L509.16,368.10 L509.91,367.91 L510.65,367.72 L511.39,367.53 L512.14,367.34 L512.88,367.15 L513.62,366.95 L514.37,366.75 L515.11,366.55 L515.85,366.35 L516.60,366.14 L517.34,365.93 L518.08,365.72 L518.83,365.51 L519.57,365.29 L520.31,365.08 L521.06,364.86 L521.80,364.64 L522.54,364.42 L523.29,364.20 L524.03,363.98 L524.77,363.76 L525.52,363.53 L526.26,363.30 L527.00,363.07 L527.75,362.84 L528.49,362.61 L529.23,362.38 L529.98,362.15 L530.72,361.91 L531.46,361.68 L532.21,361.44 L532.95,361.21 L533.69,360.97 L534.44,360.73 L535.18,360.49 L535.92,360.24 L536.67,360.00 L537.41,359.75 L538.15,359.50 L538.90,359.25 L539.64,358.99 L540.38,358.73 L541.13,358.46 L541.87,358.19 L542.61,357.92 L543.36,357.64 L544.10,357.36 L544.84,357.07 L545.59,356.79 L546.33,356.50 L547.07,356.21 L547.82,355.92 L548.56,355.64 L549.30,355.35 L550.05,355.07 L550.79,354.79 L551.53,354.52 L552.28,354.24 L553.02,353.97 L553.76,353.70 L554.51,353.43 L555.25,353.16 L555.99,352.88 L556.74,352.61 L557.48,352.34 L558.22,352.06 L558.97,351.79 L559.71,351.51 L560.45,351.23 L561.20,350.95 L561.94,350.67 L562.68,350.39 L563.43,350.11 L564.17,349.83 L564.91,349.55 L565.66,349.26 L566.40,348.98 L567.14,348.72 L567.89,348.45 L568.63,348.18 L569.37,347.92 L570.12,347.64 L570.86,347.37 L571.60,347.10 L572.35,346.82 L573.09,346.54 L573.83,346.26 L574.58,345.98 L575.32,345.69 L576.06,345.40 L576.81,345.12 L577.55,344.82 L578.29,344.53 L579.04,344.24 L579.78,343.94 L580.52,343.64 L581.27,343.34 L582.01,343.03 L582.75,342.72 L583.50,342.42 L584.24,342.10 L584.98,341.79 L585.73,341.47 L586.47,341.15 L587.21,340.83 L587.96,340.51 L588.70,340.18 L589.44,339.85 L590.19,339.51 L590.93,339.18 L591.67,338.84 L592.42,338.49 L593.16,338.15 L593.90,337.80 L594.65,337.45 L595.39,337.09 L596.13,336.72 L596.88,336.33 L597.62,335.94 L598.36,335.54 L599.10,335.14 L599.85,334.74 L600.59,334.33 L601.33,333.91 L602.08,333.50 L602.82,333.07 L603.56,332.65 L604.31,332.21 L605.05,331.77 L605.79,331.33 L606.54,330.88 L607.28,330.43 L608.02,329.97 L608.77,329.50 L609.51,329.02 L610.25,328.54 L611.00,328.06 L611.74,327.56 L612.48,327.06 L613.23,326.55 L613.97,326.04 L614.71,325.51 L615.46,324.98 L616.20,324.44 L616.94,323.89 L617.69,323.33 L618.43,322.76 L619.17,322.19 L619.92,321.61 L620.66,321.02 L621.40,320.42 L622.15,319.82 L622.89,319.21 L623.63,318.59 L624.38,317.96 L625.12,317.32 L625.86,316.67 L626.61,316.02 L627.35,315.36 L628.09,314.68 L628.84,314.00 L629.58,313.32 L630.32,312.62 L631.07,311.91 L631.81,311.19 L632.55,310.47 L633.30,309.74 L634.04,308.99 L634.78,308.24 L635.53,307.48 L636.27,306.71 L637.01,305.93 L637.76,305.13 L638.50,304.34 L639.24,303.53 L639.99,302.71 L640.73,301.88 L641.47,301.04 L642.22,300.19 L642.96,299.33 L643.70,298.46 L644.45,297.59 L645.19,296.70 L645.93,295.79 L646.68,294.86 L647.42,293.92 L648.16,292.97 L648.91,292.01 L649.65,291.04 L650.39,290.06 L651.14,289.06 L651.88,288.06 L652.62,287.04 L653.37,286.00 L654.11,284.96 L654.85,283.90 L655.60,282.82 L656.34,281.72 L657.08,280.61 L657.83,279.48 L658.57,278.34 L659.31,277.17 L660.06,275.98 L660.80,274.77 L661.54,273.54 L662.29,272.28 L663.03,271.00 L663.77,269.69 L664.52,268.35 L665.26,266.99 L666.00,265.59 L666.75,264.15 L667.49,262.66 L668.23,261.13 L668.98,259.57 L669.72,257.97 L670.46,256.34 L671.21,254.67 L671.95,252.97 L672.69,251.22 L673.44,249.45 L674.18,247.63 L674.92,245.78 L675.67,243.92 L676.41,242.05 L677.15,240.13 L677.90,238.17 L678.64,236.17 L679.38,234.14 L680.13,232.06 L680.87,229.95 L681.61,227.77 L682.36,225.53 L683.10,223.25 L683.84,220.92 L684.59,218.55 L685.33,216.13 L686.07,213.65 L686.82,211.11 L687.56,208.51 L688.30,205.84 L689.04,203.10 L689.79,200.28 L690.53,197.36 L691.27,194.32 L692.02,191.19 L692.76,187.96 L693.50,184.61 L694.25,181.12 L694.99,177.36 L695.73,173.47 L696.48,169.43 L697.22,165.25 L697.96,160.92 L698.71,156.45 L699.45,151.81 L700.19,147.00 L700.94,141.99 L701.68,137.04 L702.42,132.00 L703.17,126.73 L703.91,121.24 L704.65,115.49 L705.40,109.49 L706.14,103.20 L706.88,96.63 L707.63,89.74 L708.37,82.52 L709.11,74.92 L709.86,66.93 L710.60,58.52 L711.34,49.66 L712.09,40.31 L712.83,30.49 L713.57,20.10 L713.68,18.54" stroke="#ff0000" stroke-dasharray="12.1 4.519"/>
</g>
<g stroke="#808080" stroke-width="1.2" fill="none"><line x1="178.0" y1="24.9" x2="178.0" y2="278.0"/><line x1="177.4" y1="277.4" x2="588.2" y2="277.4"/></g>
<g stroke="#1a1a1a" stroke-width="0.85" fill="none"><line x1="198.44" y1="277.4" x2="198.44" y2="274.40"/><line x1="218.99" y1="277.4" x2="218.99" y2="274.40"/><line x1="239.54" y1="277.4" x2="239.54" y2="274.40"/><line x1="260.08" y1="277.4" x2="260.08" y2="272.40"/><line x1="280.62" y1="277.4" x2="280.62" y2="274.40"/><line x1="301.17" y1="277.4" x2="301.17" y2="274.40"/><line x1="321.72" y1="277.4" x2="321.72" y2="274.40"/><line x1="342.26" y1="277.4" x2="342.26" y2="272.40"/><line x1="362.81" y1="277.4" x2="362.81" y2="274.40"/><line x1="383.35" y1="277.4" x2="383.35" y2="274.40"/><line x1="403.89" y1="277.4" x2="403.89" y2="274.40"/><line x1="424.44" y1="277.4" x2="424.44" y2="272.40"/><line x1="444.99" y1="277.4" x2="444.99" y2="274.40"/><line x1="465.53" y1="277.4" x2="465.53" y2="274.40"/><line x1="486.07" y1="277.4" x2="486.07" y2="274.40"/><line x1="506.62" y1="277.4" x2="506.62" y2="272.40"/><line x1="527.17" y1="277.4" x2="527.17" y2="274.40"/><line x1="547.71" y1="277.4" x2="547.71" y2="274.40"/><line x1="568.25" y1="277.4" x2="568.25" y2="274.40"/><line x1="588.80" y1="277.4" x2="588.80" y2="272.40"/><line x1="178.0" y1="266.51" x2="181.00" y2="266.51"/><line x1="178.0" y1="253.83" x2="181.00" y2="253.83"/><line x1="178.0" y1="241.15" x2="181.00" y2="241.15"/><line x1="178.0" y1="228.46" x2="182.80" y2="228.46"/><line x1="178.0" y1="215.77" x2="181.00" y2="215.77"/><line x1="178.0" y1="203.09" x2="181.00" y2="203.09"/><line x1="178.0" y1="190.40" x2="181.00" y2="190.40"/><line x1="178.0" y1="177.72" x2="182.80" y2="177.72"/><line x1="178.0" y1="165.04" x2="181.00" y2="165.04"/><line x1="178.0" y1="152.35" x2="181.00" y2="152.35"/><line x1="178.0" y1="139.66" x2="181.00" y2="139.66"/><line x1="178.0" y1="126.98" x2="182.80" y2="126.98"/><line x1="178.0" y1="114.30" x2="181.00" y2="114.30"/><line x1="178.0" y1="101.61" x2="181.00" y2="101.61"/><line x1="178.0" y1="88.93" x2="181.00" y2="88.93"/><line x1="178.0" y1="76.24" x2="182.80" y2="76.24"/><line x1="178.0" y1="63.55" x2="181.00" y2="63.55"/><line x1="178.0" y1="50.87" x2="181.00" y2="50.87"/><line x1="178.0" y1="38.18" x2="181.00" y2="38.18"/><line x1="178.0" y1="25.50" x2="182.80" y2="25.50"/></g>
<g fill="none" stroke-width="2.9" stroke-linejoin="round">
<path d="M177.90,279.20 L177.90,269.95 L177.90,268.51 L177.90,266.56 L177.94,263.72 L178.02,261.87 L178.31,259.25 L178.72,257.35 L179.13,256.06 L179.54,255.05 L179.95,254.20 L180.37,253.46 L180.78,252.80 L181.19,252.20 L181.60,251.65 L182.01,251.14 L182.42,250.66 L182.83,250.21 L183.24,249.78 L183.65,249.37 L184.06,248.98 L184.47,248.60 L184.89,248.24 L185.30,247.89 L185.71,247.55 L186.12,247.23 L186.53,246.92 L186.94,246.61 L187.35,246.30 L187.76,245.99 L188.17,245.68 L188.58,245.37 L188.99,245.06 L189.41,244.75 L189.82,244.44 L190.23,244.13 L190.64,243.86 L191.05,243.59 L191.46,243.31 L191.87,243.04 L192.28,242.77 L192.69,242.49 L193.10,242.22 L193.51,241.95 L193.93,241.67 L194.34,241.40 L194.75,241.20 L195.16,240.99 L195.57,240.79 L195.98,240.59 L196.39,240.38 L196.80,240.18 L197.21,239.98 L197.62,239.78 L198.03,239.57 L198.44,239.37 L198.86,239.18 L199.27,238.99 L199.68,238.80 L200.09,238.61 L200.50,238.42 L200.91,238.23 L201.32,238.04 L201.73,237.85 L202.14,237.66 L202.55,237.47 L202.96,237.29 L203.38,237.11 L203.79,236.93 L204.20,236.76 L204.61,236.58 L205.02,236.40 L205.43,236.22 L205.84,236.05 L206.25,235.87 L206.66,235.69 L207.07,235.51 L207.48,235.34 L207.90,235.16 L208.31,234.98 L208.72,234.80 L209.13,234.62 L209.54,234.45 L209.95,234.27 L210.36,234.09 L210.77,233.91 L211.18,233.76 L211.59,233.61 L212.00,233.46 L212.42,233.31 L212.83,233.15 L213.24,233.00 L213.65,232.85 L214.06,232.70 L214.47,232.54 L214.88,232.39 L215.29,232.25 L215.70,232.11 L216.11,231.97 L216.52,231.83 L216.94,231.69 L217.35,231.56 L217.76,231.42 L218.17,231.28 L218.58,231.14 L218.99,231.00 L219.40,230.87 L219.81,230.75 L220.22,230.62 L220.63,230.49 L221.04,230.37 L221.46,230.24 L221.87,230.12 L222.28,229.99 L222.69,229.87 L223.10,229.74 L223.51,229.62 L223.92,229.49 L224.33,229.36 L224.74,229.24 L225.15,229.11 L225.56,228.99 L225.98,228.86 L226.39,228.74 L226.80,228.61 L227.21,228.49 L227.62,228.36 L228.03,228.23 L228.44,228.11 L228.85,227.98 L229.26,227.86 L229.67,227.73 L230.08,227.61 L230.50,227.48 L230.91,227.36 L231.32,227.23 L231.73,227.10 L232.14,226.98 L232.55,226.85 L232.96,226.73 L233.37,226.60 L233.78,226.48 L234.19,226.35 L234.60,226.22 L235.02,226.10 L235.43,225.97 L235.84,225.85 L236.25,225.72 L236.66,225.60 L237.07,225.47 L237.48,225.35 L237.89,225.22 L238.30,225.09 L238.71,224.97 L239.12,224.84 L239.53,224.72 L239.95,224.59 L240.36,224.47 L240.77,224.34 L241.18,224.22 L241.59,224.09 L242.00,223.96 L242.41,223.84 L242.82,223.71 L243.23,223.59 L243.64,223.46 L244.05,223.34 L244.47,223.21 L244.88,223.09 L245.29,222.96 L245.70,222.83 L246.11,222.71 L246.52,222.58 L246.93,222.46 L247.34,222.33 L247.75,222.21 L248.16,222.08 L248.57,221.96 L248.99,221.83 L249.40,221.70 L249.81,221.58 L250.22,221.45 L250.63,221.33 L251.04,221.20 L251.45,221.08 L251.86,220.95 L252.27,220.82 L252.68,220.70 L253.09,220.57 L253.51,220.45 L253.92,220.32 L254.33,220.20 L254.74,220.07 L255.15,219.95 L255.56,219.82 L255.97,219.69 L256.38,219.57 L256.79,219.44 L257.20,219.32 L257.61,219.19 L258.03,219.07 L258.44,218.94 L258.85,218.82 L259.26,218.69 L259.67,218.56 L260.08,218.44 L260.49,218.31 L260.90,218.19 L261.31,218.06 L261.72,217.93 L262.13,217.81 L262.55,217.68 L262.96,217.55 L263.37,217.43 L263.78,217.30 L264.19,217.18 L264.60,217.05 L265.01,216.92 L265.42,216.80 L265.83,216.67 L266.24,216.54 L266.65,216.42 L267.07,216.29 L267.48,216.16 L267.89,216.04 L268.30,215.91 L268.71,215.79 L269.12,215.66 L269.53,215.53 L269.94,215.41 L270.35,215.28 L270.76,215.15 L271.17,215.03 L271.59,214.90 L272.00,214.77 L272.41,214.65 L272.82,214.52 L273.23,214.40 L273.64,214.27 L274.05,214.14 L274.46,214.02 L274.87,213.89 L275.28,213.76 L275.69,213.64 L276.11,213.51 L276.52,213.39 L276.93,213.26 L277.34,213.13 L277.75,213.01 L278.16,212.88 L278.57,212.75 L278.98,212.63 L279.39,212.50 L279.80,212.37 L280.21,212.25 L280.62,212.12 L281.04,212.00 L281.45,211.87 L281.86,211.74 L282.27,211.62 L282.68,211.49 L283.09,211.36 L283.50,211.24 L283.91,211.11 L284.32,210.98 L284.73,210.86 L285.14,210.73 L285.56,210.61 L285.97,210.48 L286.38,210.35 L286.79,210.23 L287.20,210.10 L287.61,209.97 L288.02,209.85 L288.43,209.72 L288.84,209.59 L289.25,209.47 L289.66,209.34 L290.08,209.22 L290.49,209.09 L290.90,208.96 L291.31,208.84 L291.72,208.71 L292.13,208.58 L292.54,208.46 L292.95,208.33 L293.36,208.21 L293.77,208.08 L294.18,207.95 L294.60,207.83 L295.01,207.70 L295.42,207.57 L295.83,207.45 L296.24,207.32 L296.65,207.19 L297.06,207.07 L297.47,206.94 L297.88,206.82 L298.29,206.69 L298.70,206.56 L299.12,206.44 L299.53,206.31 L299.94,206.18 L300.35,206.06 L300.76,205.93 L301.17,205.80 L301.58,205.67 L301.99,205.53 L302.40,205.39 L302.81,205.26 L303.22,205.12 L303.64,204.98 L304.05,204.85 L304.46,204.71 L304.87,204.57 L305.28,204.44 L305.69,204.30 L306.10,204.16 L306.51,204.03 L306.92,203.89 L307.33,203.75 L307.74,203.62 L308.16,203.48 L308.57,203.34 L308.98,203.21 L309.39,203.07 L309.80,202.93 L310.21,202.80 L310.62,202.66 L311.03,202.52 L311.44,202.39 L311.85,202.25 L312.26,202.11 L312.68,201.98 L313.09,201.84 L313.50,201.70 L313.91,201.57 L314.32,201.43 L314.73,201.29 L315.14,201.16 L315.55,201.02 L315.96,200.88 L316.37,200.75 L316.78,200.61 L317.20,200.47 L317.61,200.33 L318.02,200.20 L318.43,200.06 L318.84,199.92 L319.25,199.79 L319.66,199.65 L320.07,199.51 L320.48,199.38 L320.89,199.24 L321.30,199.10 L321.72,198.97 L322.13,198.83 L322.54,198.69 L322.95,198.56 L323.36,198.42 L323.77,198.28 L324.18,198.15 L324.59,198.01 L325.00,197.87 L325.41,197.74 L325.82,197.60 L326.23,197.46 L326.65,197.33 L327.06,197.19 L327.47,197.05 L327.88,196.92 L328.29,196.78 L328.70,196.64 L329.11,196.51 L329.52,196.37 L329.93,196.23 L330.34,196.10 L330.75,195.96 L331.17,195.82 L331.58,195.69 L331.99,195.55 L332.40,195.41 L332.81,195.28 L333.22,195.14 L333.63,195.00 L334.04,194.87 L334.45,194.73 L334.86,194.59 L335.27,194.45 L335.69,194.32 L336.10,194.18 L336.51,194.04 L336.92,193.91 L337.33,193.77 L337.74,193.63 L338.15,193.50 L338.56,193.36 L338.97,193.22 L339.38,193.09 L339.79,192.95 L340.21,192.81 L340.62,192.68 L341.03,192.54 L341.44,192.40 L341.85,192.27 L342.26,192.13 L342.67,191.97 L343.08,191.81 L343.49,191.66 L343.90,191.50 L344.31,191.34 L344.73,191.18 L345.14,191.02 L345.55,190.87 L345.96,190.71 L346.37,190.55 L346.78,190.39 L347.19,190.23 L347.60,190.08 L348.01,189.92 L348.42,189.76 L348.83,189.60 L349.25,189.44 L349.66,189.29 L350.07,189.13 L350.48,188.97 L350.89,188.81 L351.30,188.65 L351.71,188.49 L352.12,188.34 L352.53,188.18 L352.94,188.02 L353.35,187.86 L353.77,187.70 L354.18,187.55 L354.59,187.39 L355.00,187.23 L355.41,187.07 L355.82,186.91 L356.23,186.76 L356.64,186.60 L357.05,186.44 L357.46,186.28 L357.87,186.12 L358.29,185.97 L358.70,185.81 L359.11,185.65 L359.52,185.49 L359.93,185.33 L360.34,185.18 L360.75,185.02 L361.16,184.86 L361.57,184.70 L361.98,184.54 L362.39,184.39 L362.81,184.23 L363.22,184.07 L363.63,183.91 L364.04,183.75 L364.45,183.60 L364.86,183.44 L365.27,183.28 L365.68,183.12 L366.09,182.96 L366.50,182.80 L366.91,182.65 L367.32,182.49 L367.74,182.33 L368.15,182.17 L368.56,182.01 L368.97,181.86 L369.38,181.70 L369.79,181.54 L370.20,181.38 L370.61,181.22 L371.02,181.07 L371.43,180.91 L371.84,180.75 L372.26,180.59 L372.67,180.43 L373.08,180.28 L373.49,180.12 L373.90,179.96 L374.31,179.80 L374.72,179.64 L375.13,179.49 L375.54,179.33 L375.95,179.17 L376.36,179.01 L376.78,178.85 L377.19,178.70 L377.60,178.54 L378.01,178.38 L378.42,178.22 L378.83,178.06 L379.24,177.91 L379.65,177.75 L380.06,177.59 L380.47,177.43 L380.88,177.27 L381.30,177.11 L381.71,176.96 L382.12,176.80 L382.53,176.64 L382.94,176.48 L383.35,176.32 L383.76,176.16 L384.17,176.00 L384.58,175.84 L384.99,175.68 L385.40,175.52 L385.82,175.36 L386.23,175.20 L386.64,175.04 L387.05,174.87 L387.46,174.71 L387.87,174.55 L388.28,174.39 L388.69,174.23 L389.10,174.07 L389.51,173.91 L389.92,173.75 L390.34,173.59 L390.75,173.42 L391.16,173.26 L391.57,173.10 L391.98,172.94 L392.39,172.78 L392.80,172.62 L393.21,172.46 L393.62,172.30 L394.03,172.14 L394.44,171.97 L394.86,171.81 L395.27,171.65 L395.68,171.49 L396.09,171.33 L396.50,171.17 L396.91,171.01 L397.32,170.85 L397.73,170.69 L398.14,170.53 L398.55,170.36 L398.96,170.20 L399.38,170.04 L399.79,169.88 L400.20,169.72 L400.61,169.56 L401.02,169.40 L401.43,169.24 L401.84,169.08 L402.25,168.91 L402.66,168.75 L403.07,168.59 L403.48,168.43 L403.89,168.27 L404.31,168.11 L404.72,167.95 L405.13,167.79 L405.54,167.63 L405.95,167.46 L406.36,167.30 L406.77,167.14 L407.18,166.98 L407.59,166.82 L408.00,166.66 L408.41,166.50 L408.83,166.34 L409.24,166.18 L409.65,166.01 L410.06,165.85 L410.47,165.69 L410.88,165.53 L411.29,165.37 L411.70,165.21 L412.11,165.05 L412.52,164.89 L412.93,164.73 L413.35,164.56 L413.76,164.40 L414.17,164.24 L414.58,164.08 L414.99,163.92 L415.40,163.76 L415.81,163.60 L416.22,163.44 L416.63,163.28 L417.04,163.11 L417.45,162.95 L417.87,162.79 L418.28,162.63 L418.69,162.47 L419.10,162.31 L419.51,162.15 L419.92,161.99 L420.33,161.83 L420.74,161.66 L421.15,161.50 L421.56,161.34 L421.97,161.18 L422.39,161.02 L422.80,160.86 L423.21,160.70 L423.62,160.54 L424.03,160.38 L424.44,160.21 L424.85,160.03 L425.26,159.85 L425.67,159.67 L426.08,159.48 L426.49,159.30 L426.91,159.12 L427.32,158.94 L427.73,158.75 L428.14,158.57 L428.55,158.39 L428.96,158.21 L429.37,158.02 L429.78,157.84 L430.19,157.66 L430.60,157.47 L431.01,157.29 L431.43,157.11 L431.84,156.93 L432.25,156.74 L432.66,156.56 L433.07,156.38 L433.48,156.20 L433.89,156.01 L434.30,155.83 L434.71,155.65 L435.12,155.47 L435.53,155.28 L435.95,155.10 L436.36,154.92 L436.77,154.73 L437.18,154.55 L437.59,154.37 L438.00,154.19 L438.41,154.00 L438.82,153.82 L439.23,153.64 L439.64,153.46 L440.05,153.27 L440.47,153.09 L440.88,152.91 L441.29,152.73 L441.70,152.54 L442.11,152.36 L442.52,152.18 L442.93,151.99 L443.34,151.81 L443.75,151.63 L444.16,151.45 L444.57,151.26 L444.99,151.08 L445.40,150.90 L445.81,150.72 L446.22,150.53 L446.63,150.35 L447.04,150.17 L447.45,149.99 L447.86,149.80 L448.27,149.62 L448.68,149.44 L449.09,149.25 L449.50,149.07 L449.92,148.89 L450.33,148.71 L450.74,148.52 L451.15,148.34 L451.56,148.16 L451.97,147.98 L452.38,147.79 L452.79,147.61 L453.20,147.43 L453.61,147.25 L454.02,147.06 L454.44,146.88 L454.85,146.70 L455.26,146.51 L455.67,146.33 L456.08,146.15 L456.49,145.97 L456.90,145.78 L457.31,145.60 L457.72,145.42 L458.13,145.24 L458.54,145.05 L458.96,144.87 L459.37,144.69 L459.78,144.51 L460.19,144.32 L460.60,144.14 L461.01,143.96 L461.42,143.77 L461.83,143.59 L462.24,143.41 L462.65,143.23 L463.06,143.04 L463.48,142.86 L463.89,142.68 L464.30,142.50 L464.71,142.31 L465.12,142.13 L465.53,141.95 L465.94,141.74 L466.35,141.54 L466.76,141.33 L467.17,141.13 L467.58,140.92 L468.00,140.72 L468.41,140.51 L468.82,140.30 L469.23,140.10 L469.64,139.89 L470.05,139.69 L470.46,139.48 L470.87,139.28 L471.28,139.07 L471.69,138.87 L472.10,138.66 L472.52,138.45 L472.93,138.25 L473.34,138.04 L473.75,137.84 L474.16,137.63 L474.57,137.43 L474.98,137.22 L475.39,137.02 L475.80,136.81 L476.21,136.61 L476.62,136.40 L477.04,136.19 L477.45,135.99 L477.86,135.78 L478.27,135.58 L478.68,135.37 L479.09,135.17 L479.50,134.96 L479.91,134.76 L480.32,134.55 L480.73,134.34 L481.14,134.14 L481.56,133.93 L481.97,133.73 L482.38,133.52 L482.79,133.32 L483.20,133.11 L483.61,132.91 L484.02,132.70 L484.43,132.50 L484.84,132.29 L485.25,132.08 L485.66,131.88 L486.07,131.67 L486.49,131.47 L486.90,131.26 L487.31,131.06 L487.72,130.85 L488.13,130.65 L488.54,130.44 L488.95,130.23 L489.36,130.03 L489.77,129.82 L490.18,129.62 L490.59,129.41 L491.01,129.21 L491.42,129.00 L491.83,128.80 L492.24,128.59 L492.65,128.39 L493.06,128.18 L493.47,127.97 L493.88,127.77 L494.29,127.56 L494.70,127.36 L495.11,127.15 L495.53,126.95 L495.94,126.74 L496.35,126.54 L496.76,126.33 L497.17,126.13 L497.58,125.92 L497.99,125.71 L498.40,125.51 L498.81,125.30 L499.22,125.10 L499.63,124.89 L500.05,124.69 L500.46,124.48 L500.87,124.28 L501.28,124.07 L501.69,123.86 L502.10,123.66 L502.51,123.45 L502.92,123.25 L503.33,123.04 L503.74,122.84 L504.15,122.63 L504.57,122.43 L504.98,122.22 L505.39,122.02 L505.80,121.81 L506.21,121.60 L506.62,121.40 L507.03,121.17 L507.44,120.93 L507.85,120.70 L508.26,120.47 L508.67,120.24 L509.09,120.01 L509.50,119.77 L509.91,119.54 L510.32,119.31 L510.73,119.08 L511.14,118.85 L511.55,118.61 L511.96,118.38 L512.37,118.15 L512.78,117.92 L513.19,117.68 L513.61,117.45 L514.02,117.22 L514.43,116.99 L514.84,116.76 L515.25,116.52 L515.66,116.29 L516.07,116.06 L516.48,115.83 L516.89,115.60 L517.30,115.36 L517.71,115.13 L518.13,114.90 L518.54,114.67 L518.95,114.43 L519.36,114.20 L519.77,113.97 L520.18,113.74 L520.59,113.51 L521.00,113.27 L521.41,113.04 L521.82,112.81 L522.23,112.58 L522.65,112.35 L523.06,112.11 L523.47,111.88 L523.88,111.65 L524.29,111.42 L524.70,111.18 L525.11,110.95 L525.52,110.72 L525.93,110.49 L526.34,110.26 L526.75,110.02 L527.16,109.79 L527.58,109.56 L527.99,109.33 L528.40,109.10 L528.81,108.86 L529.22,108.63 L529.63,108.40 L530.04,108.17 L530.45,107.93 L530.86,107.70 L531.27,107.47 L531.68,107.24 L532.10,107.01 L532.51,106.77 L532.92,106.54 L533.33,106.31 L533.74,106.08 L534.15,105.85 L534.56,105.61 L534.97,105.38 L535.38,105.15 L535.79,104.92 L536.20,104.68 L536.62,104.45 L537.03,104.22 L537.44,103.99 L537.85,103.76 L538.26,103.52 L538.67,103.29 L539.08,103.06 L539.49,102.83 L539.90,102.60 L540.31,102.36 L540.72,102.13 L541.14,101.90 L541.55,101.67 L541.96,101.43 L542.37,101.20 L542.78,100.97 L543.19,100.74 L543.60,100.51 L544.01,100.27 L544.42,100.04 L544.83,99.81 L545.24,99.58 L545.66,99.35 L546.07,99.11 L546.48,98.88 L546.89,98.65 L547.30,98.42 L547.71,98.19 L548.12,97.92 L548.53,97.66 L548.94,97.40 L549.35,97.13 L549.76,96.87 L550.18,96.61 L550.59,96.34 L551.00,96.08 L551.41,95.82 L551.82,95.55 L552.23,95.29 L552.64,95.03 L553.05,94.76 L553.46,94.50 L553.87,94.24 L554.28,93.98 L554.70,93.71 L555.11,93.45 L555.52,93.19 L555.93,92.92 L556.34,92.66 L556.75,92.40 L557.16,92.13 L557.57,91.87 L557.98,91.61 L558.39,91.34 L558.80,91.08 L559.22,90.82 L559.63,90.56 L560.04,90.29 L560.45,90.03 L560.86,89.77 L561.27,89.50 L561.68,89.24 L562.09,88.98 L562.50,88.71 L562.91,88.45 L563.32,88.19 L563.74,87.92 L564.15,87.66 L564.56,87.40 L564.97,87.14 L565.38,86.87 L565.79,86.61 L566.20,86.35 L566.61,86.08 L567.02,85.82 L567.43,85.56 L567.84,85.29 L568.25,85.03 L568.67,84.77 L569.08,84.50 L569.49,84.24 L569.90,83.98 L570.31,83.72 L570.72,83.45 L571.13,83.19 L571.54,82.93 L571.95,82.66 L572.36,82.40 L572.77,82.14 L573.19,81.87 L573.60,81.61 L574.01,81.35 L574.42,81.08 L574.83,80.82 L575.24,80.56 L575.65,80.30 L576.06,80.03 L576.47,79.77 L576.88,79.51 L577.29,79.24 L577.71,78.98 L578.12,78.72 L578.53,78.45 L578.94,78.19 L579.35,77.93 L579.76,77.66 L580.17,77.40 L580.58,77.14 L580.99,76.88 L581.40,76.61 L581.81,76.35 L582.23,76.09 L582.64,75.82 L583.05,75.56 L583.46,75.30 L583.87,75.03 L584.28,74.77 L584.69,74.51 L585.10,74.24 L585.51,73.98 L585.92,73.72 L586.33,73.45 L586.75,73.19 L587.16,72.93 L587.57,72.67 L587.98,72.40 L588.39,72.14 L588.80,71.88" stroke="#0000ff"/>
<path d="M177.90,279.20 L177.90,269.95 L177.90,268.51 L177.90,266.56 L177.94,263.72 L178.02,261.87 L178.31,259.25 L178.72,257.35 L179.13,256.05 L179.54,255.04 L179.95,254.19 L180.37,253.45 L180.78,252.79 L181.19,252.18 L181.60,251.63 L182.01,251.11 L182.42,250.62 L182.83,250.16 L183.24,249.73 L183.65,249.31 L184.06,248.91 L184.47,248.53 L184.89,248.16 L185.30,247.80 L185.71,247.45 L186.12,247.11 L186.53,246.77 L186.94,246.44 L187.35,246.11 L187.76,245.78 L188.17,245.46 L188.58,245.13 L188.99,244.81 L189.41,244.50 L189.82,244.19 L190.23,243.88 L190.64,243.57 L191.05,243.26 L191.46,242.96 L191.87,242.65 L192.28,242.35 L192.69,242.05 L193.10,241.76 L193.51,241.48 L193.93,241.21 L194.34,240.95 L194.75,240.70 L195.16,240.46 L195.57,240.23 L195.98,240.00 L196.39,239.78 L196.80,239.56 L197.21,239.34 L197.62,239.12 L198.03,238.90 L198.44,238.68 L198.86,238.49 L199.27,238.29 L199.68,238.09 L200.09,237.90 L200.50,237.70 L200.91,237.51 L201.32,237.32 L201.73,237.13 L202.14,236.94 L202.55,236.75 L202.96,236.56 L203.38,236.37 L203.79,236.19 L204.20,236.00 L204.61,235.82 L205.02,235.64 L205.43,235.45 L205.84,235.27 L206.25,235.08 L206.66,234.90 L207.07,234.71 L207.48,234.52 L207.90,234.32 L208.31,234.13 L208.72,233.94 L209.13,233.75 L209.54,233.56 L209.95,233.37 L210.36,233.18 L210.77,233.00 L211.18,232.82 L211.59,232.63 L212.00,232.45 L212.42,232.26 L212.83,232.08 L213.24,231.90 L213.65,231.73 L214.06,231.55 L214.47,231.37 L214.88,231.20 L215.29,231.02 L215.70,230.85 L216.11,230.68 L216.52,230.50 L216.94,230.33 L217.35,230.16 L217.76,229.99 L218.17,229.82 L218.58,229.65 L218.99,229.48 L219.40,229.31 L219.81,229.15 L220.22,228.98 L220.63,228.81 L221.04,228.64 L221.46,228.47 L221.87,228.31 L222.28,228.14 L222.69,227.97 L223.10,227.80 L223.51,227.62 L223.92,227.44 L224.33,227.26 L224.74,227.07 L225.15,226.89 L225.56,226.71 L225.98,226.53 L226.39,226.35 L226.80,226.16 L227.21,225.98 L227.62,225.80 L228.03,225.62 L228.44,225.43 L228.85,225.25 L229.26,225.07 L229.67,224.89 L230.08,224.70 L230.50,224.52 L230.91,224.34 L231.32,224.15 L231.73,223.97 L232.14,223.79 L232.55,223.60 L232.96,223.42 L233.37,223.23 L233.78,223.05 L234.19,222.87 L234.60,222.68 L235.02,222.50 L235.43,222.31 L235.84,222.13 L236.25,221.94 L236.66,221.75 L237.07,221.57 L237.48,221.38 L237.89,221.19 L238.30,221.01 L238.71,220.82 L239.12,220.63 L239.53,220.45 L239.95,220.25 L240.36,220.06 L240.77,219.86 L241.18,219.67 L241.59,219.48 L242.00,219.28 L242.41,219.09 L242.82,218.89 L243.23,218.69 L243.64,218.50 L244.05,218.30 L244.47,218.10 L244.88,217.91 L245.29,217.71 L245.70,217.51 L246.11,217.31 L246.52,217.11 L246.93,216.91 L247.34,216.71 L247.75,216.51 L248.16,216.31 L248.57,216.11 L248.99,215.91 L249.40,215.71 L249.81,215.50 L250.22,215.30 L250.63,215.10 L251.04,214.89 L251.45,214.69 L251.86,214.48 L252.27,214.28 L252.68,214.07 L253.09,213.86 L253.51,213.65 L253.92,213.45 L254.33,213.24 L254.74,213.03 L255.15,212.82 L255.56,212.61 L255.97,212.40 L256.38,212.19 L256.79,211.97 L257.20,211.76 L257.61,211.55 L258.03,211.33 L258.44,211.12 L258.85,210.90 L259.26,210.69 L259.67,210.47 L260.08,210.25 L260.49,210.04 L260.90,209.83 L261.31,209.61 L261.72,209.40 L262.13,209.19 L262.55,208.97 L262.96,208.76 L263.37,208.54 L263.78,208.33 L264.19,208.11 L264.60,207.89 L265.01,207.68 L265.42,207.46 L265.83,207.24 L266.24,207.02 L266.65,206.80 L267.07,206.58 L267.48,206.36 L267.89,206.14 L268.30,205.92 L268.71,205.70 L269.12,205.47 L269.53,205.25 L269.94,205.03 L270.35,204.80 L270.76,204.58 L271.17,204.35 L271.59,204.13 L272.00,203.90 L272.41,203.67 L272.82,203.45 L273.23,203.22 L273.64,202.99 L274.05,202.76 L274.46,202.53 L274.87,202.30 L275.28,202.07 L275.69,201.84 L276.11,201.61 L276.52,201.38 L276.93,201.15 L277.34,200.91 L277.75,200.68 L278.16,200.45 L278.57,200.21 L278.98,199.98 L279.39,199.74 L279.80,199.51 L280.21,199.27 L280.62,199.03 L281.04,198.80 L281.45,198.56 L281.86,198.32 L282.27,198.08 L282.68,197.84 L283.09,197.60 L283.50,197.36 L283.91,197.12 L284.32,196.88 L284.73,196.64 L285.14,196.40 L285.56,196.15 L285.97,195.91 L286.38,195.67 L286.79,195.42 L287.20,195.18 L287.61,194.93 L288.02,194.69 L288.43,194.44 L288.84,194.19 L289.25,193.95 L289.66,193.70 L290.08,193.45 L290.49,193.20 L290.90,192.95 L291.31,192.70 L291.72,192.45 L292.13,192.20 L292.54,191.95 L292.95,191.70 L293.36,191.45 L293.77,191.19 L294.18,190.94 L294.60,190.69 L295.01,190.43 L295.42,190.18 L295.83,189.92 L296.24,189.67 L296.65,189.41 L297.06,189.15 L297.47,188.90 L297.88,188.64 L298.29,188.38 L298.70,188.12 L299.12,187.86 L299.53,187.60 L299.94,187.34 L300.35,187.08 L300.76,186.82 L301.17,186.56 L301.58,186.29 L301.99,186.03 L302.40,185.77 L302.81,185.50 L303.22,185.24 L303.64,184.98 L304.05,184.71 L304.46,184.45 L304.87,184.18 L305.28,183.91 L305.69,183.64 L306.10,183.38 L306.51,183.11 L306.92,182.84 L307.33,182.57 L307.74,182.30 L308.16,182.03 L308.57,181.76 L308.98,181.49 L309.39,181.21 L309.80,180.94 L310.21,180.67 L310.62,180.39 L311.03,180.12 L311.44,179.84 L311.85,179.57 L312.26,179.29 L312.68,179.01 L313.09,178.73 L313.50,178.46 L313.91,178.18 L314.32,177.90 L314.73,177.62 L315.14,177.33 L315.55,177.05 L315.96,176.77 L316.37,176.48 L316.78,176.20 L317.20,175.91 L317.61,175.63 L318.02,175.34 L318.43,175.05 L318.84,174.77 L319.25,174.48 L319.66,174.19 L320.07,173.90 L320.48,173.60 L320.89,173.31 L321.30,173.02 L321.72,172.72 L322.13,172.43 L322.54,172.13 L322.95,171.84 L323.36,171.54 L323.77,171.24 L324.18,170.94 L324.59,170.64 L325.00,170.34 L325.41,170.03 L325.82,169.73 L326.23,169.43 L326.65,169.12 L327.06,168.81 L327.47,168.51 L327.88,168.20 L328.29,167.89 L328.70,167.58 L329.11,167.27 L329.52,166.96 L329.93,166.64 L330.34,166.33 L330.75,166.01 L331.17,165.70 L331.58,165.38 L331.99,165.06 L332.40,164.74 L332.81,164.42 L333.22,164.10 L333.63,163.77 L334.04,163.45 L334.45,163.12 L334.86,162.80 L335.27,162.47 L335.69,162.14 L336.10,161.81 L336.51,161.48 L336.92,161.14 L337.33,160.81 L337.74,160.48 L338.15,160.14 L338.56,159.80 L338.97,159.46 L339.38,159.12 L339.79,158.78 L340.21,158.44 L340.62,158.09 L341.03,157.75 L341.44,157.40 L341.85,157.05 L342.26,156.71 L342.67,156.35 L343.08,155.99 L343.49,155.63 L343.90,155.26 L344.31,154.90 L344.73,154.53 L345.14,154.17 L345.55,153.80 L345.96,153.43 L346.37,153.06 L346.78,152.69 L347.19,152.32 L347.60,151.94 L348.01,151.57 L348.42,151.19 L348.83,150.81 L349.25,150.43 L349.66,150.05 L350.07,149.66 L350.48,149.28 L350.89,148.89 L351.30,148.51 L351.71,148.12 L352.12,147.73 L352.53,147.34 L352.94,146.94 L353.35,146.55 L353.77,146.15 L354.18,145.76 L354.59,145.36 L355.00,144.96 L355.41,144.56 L355.82,144.16 L356.23,143.75 L356.64,143.35 L357.05,142.94 L357.46,142.53 L357.87,142.12 L358.29,141.71 L358.70,141.30 L359.11,140.88 L359.52,140.47 L359.93,140.05 L360.34,139.63 L360.75,139.21 L361.16,138.79 L361.57,138.37 L361.98,137.95 L362.39,137.52 L362.81,137.09 L363.22,136.67 L363.63,136.24 L364.04,135.80 L364.45,135.37 L364.86,134.94 L365.27,134.50 L365.68,134.06 L366.09,133.63 L366.50,133.18 L366.91,132.74 L367.32,132.30 L367.74,131.86 L368.15,131.41 L368.56,130.96 L368.97,130.51 L369.38,130.06 L369.79,129.61 L370.20,129.16 L370.61,128.70 L371.02,128.24 L371.43,127.79 L371.84,127.33 L372.26,126.86 L372.67,126.40 L373.08,125.94 L373.49,125.47 L373.90,125.00 L374.31,124.53 L374.72,124.06 L375.13,123.59 L375.54,123.12 L375.95,122.64 L376.36,122.17 L376.78,121.69 L377.19,121.21 L377.60,120.73 L378.01,120.24 L378.42,119.76 L378.83,119.27 L379.24,118.78 L379.65,118.30 L380.06,117.80 L380.47,117.31 L380.88,116.82 L381.30,116.32 L381.71,115.82 L382.12,115.33 L382.53,114.83 L382.94,114.32 L383.35,113.82 L383.76,113.32 L384.17,112.82 L384.58,112.32 L384.99,111.82 L385.40,111.31 L385.82,110.81 L386.23,110.30 L386.64,109.79 L387.05,109.28 L387.46,108.77 L387.87,108.25 L388.28,107.74 L388.69,107.22 L389.10,106.70 L389.51,106.18 L389.92,105.65 L390.34,105.13 L390.75,104.60 L391.16,104.07 L391.57,103.54 L391.98,103.01 L392.39,102.47 L392.80,101.94 L393.21,101.40 L393.62,100.86 L394.03,100.32 L394.44,99.77 L394.86,99.23 L395.27,98.68 L395.68,98.13 L396.09,97.58 L396.50,97.02 L396.91,96.47 L397.32,95.91 L397.73,95.35 L398.14,94.79 L398.55,94.23 L398.96,93.66 L399.38,93.09 L399.79,92.52 L400.20,91.95 L400.61,91.37 L401.02,90.80 L401.43,90.22 L401.84,89.64 L402.25,89.05 L402.66,88.47 L403.07,87.88 L403.48,87.29 L403.89,86.70 L404.31,86.10 L404.72,85.51 L405.13,84.91 L405.54,84.31 L405.95,83.70 L406.36,83.10 L406.77,82.49 L407.18,81.88 L407.59,81.26 L408.00,80.65 L408.41,80.03 L408.83,79.41 L409.24,78.79 L409.65,78.16 L410.06,77.54 L410.47,76.91 L410.88,76.27 L411.29,75.64 L411.70,75.00 L412.11,74.36 L412.52,73.72 L412.93,73.07 L413.35,72.42 L413.76,71.77 L414.17,71.12 L414.58,70.47 L414.99,69.81 L415.40,69.15 L415.81,68.48 L416.22,67.82 L416.63,67.15 L417.04,66.48 L417.45,65.80 L417.87,65.13 L418.28,64.45 L418.69,63.76 L419.10,63.08 L419.51,62.39 L419.92,61.70 L420.33,61.01 L420.74,60.31 L421.15,59.61 L421.56,58.91 L421.97,58.20 L422.39,57.50 L422.80,56.78 L423.21,56.07 L423.62,55.35 L424.03,54.63 L424.44,53.91 L424.85,53.19 L425.26,52.46 L425.67,51.73 L426.08,50.99 L426.49,50.26 L426.91,49.52 L427.32,48.77 L427.73,48.03 L428.14,47.28 L428.55,46.53 L428.96,45.77 L429.37,45.01 L429.78,44.25 L430.19,43.49 L430.60,42.72 L431.01,41.95 L431.43,41.18 L431.84,40.40 L432.25,39.63 L432.66,38.84 L433.07,38.06 L433.48,37.27 L433.89,36.48 L434.30,35.68 L434.71,34.89 L435.12,34.09 L435.53,33.28 L435.95,32.48 L436.36,31.67 L436.77,30.85 L437.18,30.04 L437.59,29.22 L438.00,28.40 L438.41,27.57 L438.82,26.74 L439.23,25.91 L439.64,25.07 L440.05,24.23 L440.37,23.60" stroke="#00ff00" stroke-dasharray="7.56 2.787"/>
<path d="M177.90,279.20 L177.90,269.95 L177.90,268.51 L177.90,266.56 L177.94,263.72 L178.02,261.87 L178.31,259.25 L178.72,257.35 L179.13,256.06 L179.54,255.05 L179.95,254.20 L180.37,253.46 L180.78,252.80 L181.19,252.20 L181.60,251.65 L182.01,251.14 L182.42,250.66 L182.83,250.21 L183.24,249.78 L183.65,249.37 L184.06,248.98 L184.47,248.60 L184.89,248.24 L185.30,247.89 L185.71,247.55 L186.12,247.23 L186.53,246.90 L186.94,246.58 L187.35,246.26 L187.76,245.95 L188.17,245.64 L188.58,245.33 L188.99,245.02 L189.41,244.72 L189.82,244.43 L190.23,244.13 L190.64,243.84 L191.05,243.55 L191.46,243.26 L191.87,242.98 L192.28,242.70 L192.69,242.42 L193.10,242.15 L193.51,241.89 L193.93,241.64 L194.34,241.40 L194.75,241.17 L195.16,240.95 L195.57,240.74 L195.98,240.54 L196.39,240.34 L196.80,240.14 L197.21,239.95 L197.62,239.76 L198.03,239.56 L198.44,239.37 L198.86,239.17 L199.27,238.98 L199.68,238.78 L200.09,238.59 L200.50,238.40 L200.91,238.21 L201.32,238.02 L201.73,237.84 L202.14,237.65 L202.55,237.47 L202.96,237.28 L203.38,237.10 L203.79,236.92 L204.20,236.75 L204.61,236.57 L205.02,236.39 L205.43,236.22 L205.84,236.04 L206.25,235.87 L206.66,235.69 L207.07,235.51 L207.48,235.33 L207.90,235.15 L208.31,234.97 L208.72,234.78 L209.13,234.60 L209.54,234.43 L209.95,234.25 L210.36,234.08 L210.77,233.91 L211.18,233.75 L211.59,233.59 L212.00,233.43 L212.42,233.28 L212.83,233.13 L213.24,232.98 L213.65,232.83 L214.06,232.68 L214.47,232.54 L214.88,232.39 L215.29,232.24 L215.70,232.10 L216.11,231.96 L216.52,231.82 L216.94,231.68 L217.35,231.54 L217.76,231.40 L218.17,231.26 L218.58,231.13 L218.99,230.99 L219.40,230.87 L219.81,230.75 L220.22,230.62 L220.63,230.50 L221.04,230.38 L221.46,230.26 L221.87,230.13 L222.28,230.01 L222.69,229.89 L223.10,229.77 L223.51,229.65 L223.92,229.53 L224.33,229.41 L224.74,229.29 L225.15,229.17 L225.56,229.05 L225.98,228.94 L226.39,228.82 L226.80,228.70 L227.21,228.58 L227.62,228.47 L228.03,228.35 L228.44,228.23 L228.85,228.12 L229.26,228.00 L229.67,227.88 L230.08,227.77 L230.50,227.65 L230.91,227.54 L231.32,227.42 L231.73,227.31 L232.14,227.19 L232.55,227.08 L232.96,226.96 L233.37,226.85 L233.78,226.73 L234.19,226.62 L234.60,226.51 L235.02,226.39 L235.43,226.28 L235.84,226.16 L236.25,226.05 L236.66,225.94 L237.07,225.82 L237.48,225.71 L237.89,225.60 L238.30,225.48 L238.71,225.37 L239.12,225.26 L239.53,225.14 L239.95,225.02 L240.36,224.90 L240.77,224.78 L241.18,224.66 L241.59,224.54 L242.00,224.42 L242.41,224.30 L242.82,224.18 L243.23,224.06 L243.64,223.94 L244.05,223.82 L244.47,223.70 L244.88,223.57 L245.29,223.45 L245.70,223.33 L246.11,223.21 L246.52,223.09 L246.93,222.97 L247.34,222.85 L247.75,222.72 L248.16,222.60 L248.57,222.48 L248.99,222.36 L249.40,222.24 L249.81,222.11 L250.22,221.99 L250.63,221.87 L251.04,221.74 L251.45,221.62 L251.86,221.50 L252.27,221.37 L252.68,221.25 L253.09,221.12 L253.51,221.00 L253.92,220.88 L254.33,220.75 L254.74,220.63 L255.15,220.50 L255.56,220.37 L255.97,220.25 L256.38,220.12 L256.79,219.99 L257.20,219.87 L257.61,219.74 L258.03,219.61 L258.44,219.48 L258.85,219.36 L259.26,219.23 L259.67,219.10 L260.08,218.97 L260.49,218.84 L260.90,218.71 L261.31,218.58 L261.72,218.45 L262.13,218.32 L262.55,218.19 L262.96,218.06 L263.37,217.92 L263.78,217.79 L264.19,217.66 L264.60,217.53 L265.01,217.40 L265.42,217.26 L265.83,217.13 L266.24,217.00 L266.65,216.87 L267.07,216.73 L267.48,216.60 L267.89,216.47 L268.30,216.33 L268.71,216.20 L269.12,216.07 L269.53,215.93 L269.94,215.80 L270.35,215.66 L270.76,215.53 L271.17,215.39 L271.59,215.26 L272.00,215.13 L272.41,214.99 L272.82,214.85 L273.23,214.72 L273.64,214.58 L274.05,214.45 L274.46,214.31 L274.87,214.18 L275.28,214.04 L275.69,213.90 L276.11,213.77 L276.52,213.63 L276.93,213.49 L277.34,213.36 L277.75,213.22 L278.16,213.08 L278.57,212.94 L278.98,212.81 L279.39,212.67 L279.80,212.53 L280.21,212.39 L280.62,212.26 L281.04,212.12 L281.45,211.98 L281.86,211.84 L282.27,211.70 L282.68,211.56 L283.09,211.43 L283.50,211.29 L283.91,211.15 L284.32,211.01 L284.73,210.87 L285.14,210.73 L285.56,210.59 L285.97,210.45 L286.38,210.31 L286.79,210.17 L287.20,210.03 L287.61,209.89 L288.02,209.75 L288.43,209.61 L288.84,209.47 L289.25,209.33 L289.66,209.19 L290.08,209.05 L290.49,208.91 L290.90,208.77 L291.31,208.63 L291.72,208.49 L292.13,208.35 L292.54,208.21 L292.95,208.07 L293.36,207.93 L293.77,207.79 L294.18,207.65 L294.60,207.50 L295.01,207.36 L295.42,207.22 L295.83,207.08 L296.24,206.94 L296.65,206.80 L297.06,206.66 L297.47,206.51 L297.88,206.37 L298.29,206.23 L298.70,206.09 L299.12,205.95 L299.53,205.81 L299.94,205.66 L300.35,205.52 L300.76,205.38 L301.17,205.24 L301.58,205.09 L301.99,204.95 L302.40,204.80 L302.81,204.66 L303.22,204.51 L303.64,204.36 L304.05,204.22 L304.46,204.07 L304.87,203.93 L305.28,203.78 L305.69,203.64 L306.10,203.49 L306.51,203.34 L306.92,203.20 L307.33,203.05 L307.74,202.91 L308.16,202.76 L308.57,202.62 L308.98,202.47 L309.39,202.32 L309.80,202.18 L310.21,202.03 L310.62,201.88 L311.03,201.74 L311.44,201.59 L311.85,201.45 L312.26,201.30 L312.68,201.15 L313.09,201.00 L313.50,200.86 L313.91,200.71 L314.32,200.56 L314.73,200.42 L315.14,200.27 L315.55,200.12 L315.96,199.97 L316.37,199.82 L316.78,199.68 L317.20,199.53 L317.61,199.38 L318.02,199.23 L318.43,199.08 L318.84,198.93 L319.25,198.78 L319.66,198.63 L320.07,198.48 L320.48,198.33 L320.89,198.18 L321.30,198.03 L321.72,197.88 L322.13,197.73 L322.54,197.58 L322.95,197.43 L323.36,197.28 L323.77,197.13 L324.18,196.97 L324.59,196.82 L325.00,196.67 L325.41,196.52 L325.82,196.36 L326.23,196.21 L326.65,196.05 L327.06,195.90 L327.47,195.75 L327.88,195.59 L328.29,195.44 L328.70,195.28 L329.11,195.12 L329.52,194.97 L329.93,194.81 L330.34,194.66 L330.75,194.50 L331.17,194.34 L331.58,194.18 L331.99,194.02 L332.40,193.87 L332.81,193.71 L333.22,193.55 L333.63,193.39 L334.04,193.23 L334.45,193.07 L334.86,192.90 L335.27,192.74 L335.69,192.58 L336.10,192.42 L336.51,192.26 L336.92,192.09 L337.33,191.93 L337.74,191.76 L338.15,191.60 L338.56,191.43 L338.97,191.27 L339.38,191.10 L339.79,190.94 L340.21,190.77 L340.62,190.60 L341.03,190.43 L341.44,190.26 L341.85,190.09 L342.26,189.93 L342.67,189.75 L343.08,189.58 L343.49,189.40 L343.90,189.23 L344.31,189.05 L344.73,188.87 L345.14,188.70 L345.55,188.52 L345.96,188.34 L346.37,188.16 L346.78,187.98 L347.19,187.80 L347.60,187.62 L348.01,187.44 L348.42,187.26 L348.83,187.08 L349.25,186.90 L349.66,186.71 L350.07,186.53 L350.48,186.35 L350.89,186.16 L351.30,185.98 L351.71,185.79 L352.12,185.61 L352.53,185.42 L352.94,185.23 L353.35,185.05 L353.77,184.86 L354.18,184.67 L354.59,184.48 L355.00,184.29 L355.41,184.10 L355.82,183.91 L356.23,183.72 L356.64,183.53 L357.05,183.34 L357.46,183.15 L357.87,182.96 L358.29,182.77 L358.70,182.57 L359.11,182.38 L359.52,182.18 L359.93,181.99 L360.34,181.80 L360.75,181.60 L361.16,181.40 L361.57,181.21 L361.98,181.01 L362.39,180.81 L362.81,180.62 L363.22,180.42 L363.63,180.23 L364.04,180.04 L364.45,179.84 L364.86,179.65 L365.27,179.45 L365.68,179.26 L366.09,179.06 L366.50,178.87 L366.91,178.67 L367.32,178.47 L367.74,178.28 L368.15,178.08 L368.56,177.88 L368.97,177.68 L369.38,177.48 L369.79,177.28 L370.20,177.08 L370.61,176.88 L371.02,176.68 L371.43,176.48 L371.84,176.28 L372.26,176.08 L372.67,175.88 L373.08,175.68 L373.49,175.47 L373.90,175.27 L374.31,175.07 L374.72,174.86 L375.13,174.66 L375.54,174.45 L375.95,174.25 L376.36,174.04 L376.78,173.84 L377.19,173.63 L377.60,173.42 L378.01,173.22 L378.42,173.01 L378.83,172.80 L379.24,172.59 L379.65,172.38 L380.06,172.17 L380.47,171.95 L380.88,171.74 L381.30,171.53 L381.71,171.31 L382.12,171.10 L382.53,170.88 L382.94,170.67 L383.35,170.45 L383.76,170.24 L384.17,170.02 L384.58,169.80 L384.99,169.58 L385.40,169.37 L385.82,169.15 L386.23,168.93 L386.64,168.71 L387.05,168.49 L387.46,168.27 L387.87,168.05 L388.28,167.83 L388.69,167.61 L389.10,167.39 L389.51,167.17 L389.92,166.95 L390.34,166.72 L390.75,166.50 L391.16,166.28 L391.57,166.05 L391.98,165.83 L392.39,165.60 L392.80,165.38 L393.21,165.15 L393.62,164.92 L394.03,164.70 L394.44,164.47 L394.86,164.24 L395.27,164.01 L395.68,163.78 L396.09,163.55 L396.50,163.32 L396.91,163.09 L397.32,162.85 L397.73,162.62 L398.14,162.39 L398.55,162.15 L398.96,161.92 L399.38,161.68 L399.79,161.45 L400.20,161.21 L400.61,160.97 L401.02,160.73 L401.43,160.49 L401.84,160.25 L402.25,160.01 L402.66,159.77 L403.07,159.53 L403.48,159.29 L403.89,159.04 L404.31,158.80 L404.72,158.55 L405.13,158.31 L405.54,158.06 L405.95,157.81 L406.36,157.55 L406.77,157.30 L407.18,157.05 L407.59,156.79 L408.00,156.53 L408.41,156.28 L408.83,156.02 L409.24,155.76 L409.65,155.50 L410.06,155.24 L410.47,154.98 L410.88,154.71 L411.29,154.45 L411.70,154.19 L412.11,153.92 L412.52,153.65 L412.93,153.39 L413.35,153.12 L413.76,152.85 L414.17,152.58 L414.58,152.30 L414.99,152.03 L415.40,151.76 L415.81,151.48 L416.22,151.21 L416.63,150.93 L417.04,150.65 L417.45,150.37 L417.87,150.09 L418.28,149.81 L418.69,149.51 L419.10,149.21 L419.51,148.91 L419.92,148.61 L420.33,148.31 L420.74,148.01 L421.15,147.70 L421.56,147.40 L421.97,147.09 L422.39,146.78 L422.80,146.47 L423.21,146.16 L423.62,145.85 L424.03,145.54 L424.44,145.22 L424.85,144.90 L425.26,144.59 L425.67,144.27 L426.08,143.95 L426.49,143.63 L426.91,143.30 L427.32,142.98 L427.73,142.66 L428.14,142.33 L428.55,142.00 L428.96,141.67 L429.37,141.34 L429.78,141.01 L430.19,140.68 L430.60,140.34 L431.01,140.01 L431.43,139.67 L431.84,139.33 L432.25,139.00 L432.66,138.66 L433.07,138.32 L433.48,137.97 L433.89,137.63 L434.30,137.28 L434.71,136.94 L435.12,136.59 L435.53,136.24 L435.95,135.89 L436.36,135.54 L436.77,135.18 L437.18,134.83 L437.59,134.47 L438.00,134.11 L438.41,133.75 L438.82,133.39 L439.23,133.03 L439.64,132.66 L440.05,132.29 L440.47,131.93 L440.88,131.56 L441.29,131.19 L441.70,130.81 L442.11,130.44 L442.52,130.06 L442.93,129.69 L443.34,129.33 L443.75,128.98 L444.16,128.62 L444.57,128.26 L444.99,127.91 L445.40,127.54 L445.81,127.18 L446.22,126.82 L446.63,126.45 L447.04,126.08 L447.45,125.71 L447.86,125.34 L448.27,124.97 L448.68,124.59 L449.09,124.22 L449.50,123.84 L449.92,123.46 L450.33,123.08 L450.74,122.69 L451.15,122.30 L451.56,121.92 L451.97,121.53 L452.38,121.14 L452.79,120.74 L453.20,120.35 L453.61,119.95 L454.02,119.55 L454.44,119.15 L454.85,118.74 L455.26,118.34 L455.67,117.93 L456.08,117.52 L456.49,117.11 L456.90,116.70 L457.31,116.28 L457.72,115.86 L458.13,115.44 L458.54,115.02 L458.96,114.60 L459.37,114.17 L459.78,113.74 L460.19,113.31 L460.60,112.88 L461.01,112.45 L461.42,112.01 L461.83,111.57 L462.24,111.13 L462.65,110.68 L463.06,110.24 L463.48,109.79 L463.89,109.34 L464.30,108.89 L464.71,108.44 L465.12,107.98 L465.53,107.52 L465.94,107.06 L466.35,106.60 L466.76,106.13 L467.17,105.66 L467.58,105.19 L468.00,104.72 L468.41,104.24 L468.82,103.76 L469.23,103.28 L469.64,102.80 L470.05,102.31 L470.46,101.82 L470.87,101.33 L471.28,100.84 L471.69,100.34 L472.10,99.84 L472.52,99.34 L472.93,98.83 L473.34,98.33 L473.75,97.82 L474.16,97.30 L474.57,96.79 L474.98,96.27 L475.39,95.75 L475.80,95.22 L476.21,94.69 L476.62,94.16 L477.04,93.63 L477.45,93.10 L477.86,92.56 L478.27,92.01 L478.68,91.47 L479.09,90.92 L479.50,90.37 L479.91,89.81 L480.32,89.26 L480.73,88.70 L481.14,88.13 L481.56,87.57 L481.97,87.00 L482.38,86.42 L482.79,85.85 L483.20,85.27 L483.61,84.68 L484.02,84.10 L484.43,83.51 L484.84,82.92 L485.25,82.32 L485.66,81.72 L486.07,81.12 L486.49,80.51 L486.90,79.90 L487.31,79.29 L487.72,78.68 L488.13,78.06 L488.54,77.44 L488.95,76.81 L489.36,76.18 L489.77,75.55 L490.18,74.92 L490.59,74.28 L491.01,73.63 L491.42,72.99 L491.83,72.33 L492.24,71.68 L492.65,71.02 L493.06,70.36 L493.47,69.69 L493.88,69.02 L494.29,68.35 L494.70,67.67 L495.11,66.99 L495.53,66.30 L495.94,65.61 L496.35,64.92 L496.76,64.22 L497.17,63.52 L497.58,62.81 L497.99,62.10 L498.40,61.39 L498.81,60.67 L499.22,59.95 L499.63,59.22 L500.05,58.49 L500.46,57.75 L500.87,57.01 L501.28,56.27 L501.69,55.52 L502.10,54.76 L502.51,54.00 L502.92,53.24 L503.33,52.47 L503.74,51.70 L504.15,50.93 L504.57,50.15 L504.98,49.36 L505.39,48.57 L505.80,47.77 L506.21,46.97 L506.62,46.17 L507.03,45.35 L507.44,44.53 L507.85,43.70 L508.26,42.86 L508.67,42.02 L509.09,41.18 L509.50,40.33 L509.91,39.48 L510.32,38.62 L510.73,37.75 L511.14,36.88 L511.55,36.01 L511.96,35.13 L512.37,34.24 L512.78,33.35 L513.19,32.45 L513.61,31.55 L514.02,30.65 L514.43,29.73 L514.84,28.81 L515.25,27.89 L515.66,26.96 L516.07,26.03 L516.48,25.09 L516.89,24.14 L517.30,23.19 L517.31,23.17" stroke="#ff0000" stroke-dasharray="7.5 2.748"/>
</g>
<g font-family="Liberation Sans, sans-serif" fill="#000" stroke="#000" stroke-width="0.4" stroke-linejoin="round" opacity="0.999">
<path vector-effect="non-scaling-stroke" transform="translate(-2.34,352.90) scale(0.013574,-0.013574)" d="M763 0H583V1147Q518 1085 412.5 1023T223 930V1104Q374 1175 487 1276T647 1472H763V0Z"/><text x="13.11" y="352.90" font-size="27.8">.2</text>
<path vector-effect="non-scaling-stroke" transform="translate(-2.34,248.40) scale(0.013574,-0.013574)" d="M763 0H583V1147Q518 1085 412.5 1023T223 930V1104Q374 1175 487 1276T647 1472H763V0Z"/><text x="13.11" y="248.40" font-size="27.8">.4</text>
<path vector-effect="non-scaling-stroke" transform="translate(-2.34,143.90) scale(0.013574,-0.013574)" d="M763 0H583V1147Q518 1085 412.5 1023T223 930V1104Q374 1175 487 1276T647 1472H763V0Z"/><text x="13.11" y="143.90" font-size="27.8">.6</text>
<path vector-effect="non-scaling-stroke" transform="translate(-2.34,39.40) scale(0.013574,-0.013574)" d="M763 0H583V1147Q518 1085 412.5 1023T223 930V1104Q374 1175 487 1276T647 1472H763V0Z"/><text x="13.11" y="39.40" font-size="27.8">.8</text>
<path vector-effect="non-scaling-stroke" transform="translate(49.00,472.00) scale(0.013574,-0.013574)" d="M763 0H583V1147Q518 1085 412.5 1023T223 930V1104Q374 1175 487 1276T647 1472H763V0Z"/><text x="64.46" y="472.00" font-size="27.8">0</text>
<text x="80.91" y="460.70" font-size="19.8">−4</text>
<path vector-effect="non-scaling-stroke" transform="translate(210.40,472.00) scale(0.013574,-0.013574)" d="M763 0H583V1147Q518 1085 412.5 1023T223 930V1104Q374 1175 487 1276T647 1472H763V0Z"/><text x="225.86" y="472.00" font-size="27.8">0</text>
<text x="242.31" y="460.70" font-size="19.8">−3</text>
<path vector-effect="non-scaling-stroke" transform="translate(378.40,472.00) scale(0.013574,-0.013574)" d="M763 0H583V1147Q518 1085 412.5 1023T223 930V1104Q374 1175 487 1276T647 1472H763V0Z"/><text x="393.86" y="472.00" font-size="27.8">0</text>
<text x="410.31" y="460.70" font-size="19.8">−2</text>
<path vector-effect="non-scaling-stroke" transform="translate(545.40,472.00) scale(0.013574,-0.013574)" d="M763 0H583V1147Q518 1085 412.5 1023T223 930V1104Q374 1175 487 1276T647 1472H763V0Z"/><text x="560.86" y="472.00" font-size="27.8">0</text>
<text x="577.31" y="460.70" font-size="19.8">−</text><path vector-effect="non-scaling-stroke" transform="translate(588.88,460.70) scale(0.009668,-0.009668)" d="M763 0H583V1147Q518 1085 412.5 1023T223 930V1104Q374 1175 487 1276T647 1472H763V0Z"/>
<path vector-effect="non-scaling-stroke" transform="translate(720.60,468.40) scale(0.012988,-0.012988)" d="M763 0H583V1147Q518 1085 412.5 1023T223 930V1104Q374 1175 487 1276T647 1472H763V0Z"/>
<path vector-effect="non-scaling-stroke" transform="translate(146.40,287.20) scale(0.009766,-0.009766)" d="M763 0H583V1147Q518 1085 412.5 1023T223 930V1104Q374 1175 487 1276T647 1472H763V0Z"/><text x="157.52" y="287.20" font-size="20">.0</text>
<path vector-effect="non-scaling-stroke" transform="translate(146.40,236.46) scale(0.009766,-0.009766)" d="M763 0H583V1147Q518 1085 412.5 1023T223 930V1104Q374 1175 487 1276T647 1472H763V0Z"/><text x="157.52" y="236.46" font-size="20">.2</text>
<path vector-effect="non-scaling-stroke" transform="translate(146.40,185.72) scale(0.009766,-0.009766)" d="M763 0H583V1147Q518 1085 412.5 1023T223 930V1104Q374 1175 487 1276T647 1472H763V0Z"/><text x="157.52" y="185.72" font-size="20">.4</text>
<path vector-effect="non-scaling-stroke" transform="translate(146.40,134.98) scale(0.009766,-0.009766)" d="M763 0H583V1147Q518 1085 412.5 1023T223 930V1104Q374 1175 487 1276T647 1472H763V0Z"/><text x="157.52" y="134.98" font-size="20">.6</text>
<path vector-effect="non-scaling-stroke" transform="translate(146.40,84.24) scale(0.009766,-0.009766)" d="M763 0H583V1147Q518 1085 412.5 1023T223 930V1104Q374 1175 487 1276T647 1472H763V0Z"/><text x="157.52" y="84.24" font-size="20">.8</text>
<text x="146.40" y="33.50" font-size="20">2.0</text>
<text x="246.18" y="302.60" font-size="20">0.2</text>
<text x="328.36" y="302.60" font-size="20">0.4</text>
<text x="410.54" y="302.60" font-size="20">0.6</text>
<text x="492.72" y="302.60" font-size="20">0.8</text>
<path vector-effect="non-scaling-stroke" transform="translate(574.90,302.60) scale(0.009766,-0.009766)" d="M763 0H583V1147Q518 1085 412.5 1023T223 930V1104Q374 1175 487 1276T647 1472H763V0Z"/><text x="586.02" y="302.60" font-size="20">.0</text>
</g>
<g transform="translate(78,0) scale(0.06739)"><path d="M75,98 L372,98 L382,205 L371,205 C366,150 350,116 296,114 L140,114 L243,255 L122,385 L288,385 C345,383 365,350 372,295 L383,295 L372,410 L75,410 L75,398 L203,262 L75,108 Z" fill="#000"/></g>
<g transform="translate(54.25,32.0) scale(0.06739)"><path d="M75,98 L372,98 L382,205 L371,205 C366,150 350,116 296,114 L140,114 L243,255 L122,385 L288,385 C345,383 365,350 372,295 L383,295 L372,410 L75,410 L75,398 L203,262 L75,108 Z" fill="#000"/></g>
<g transform="translate(80,44) scale(0.06427)"><g stroke="#000" fill="none" stroke-linecap="butt"><path stroke-width="12" d="M58,74 L128,74 M55,290 L150,290 M300,74 L395,74 M285,290 L395,290 M101,74 L101,290 M455,74 L600,74 M455,290 L612,290"/><path stroke-width="42" d="M340,74 L340,290"/><path stroke-width="11" d="M231,292 L333,74 M530,177 L600,177"/><path stroke-width="40" d="M511,74 L511,290"/></g><path fill="#000" d="M100,68 L150,68 L243,268 L228,297 Z"/><path fill="#000" d="M598,68 C650,68 672,95 672,123 C672,155 645,178 600,182 L600,171 C625,166 632,150 632,123 C632,98 622,80 598,80 Z"/><path fill="#000" d="M600,171 C665,172 702,200 702,235 C702,272 665,296 610,296 L610,284 C640,282 658,265 658,235 C658,205 640,184 600,183 Z"/></g>
<rect x="58.1" y="31.95" width="71.4" height="1.5" fill="#000"/>
<g transform="translate(696.000,384.000) scale(0.06734)"><path d="M150,60 C142,55 130,60 125,68 C85,130 45,240 45,315 C45,385 90,428 150,428 C205,428 250,385 272,325 C280,385 320,430 380,430 C460,430 530,300 548,160 C555,95 540,55 512,52 C480,50 458,80 470,105 C480,122 500,118 505,135 C520,180 510,250 480,310 C450,365 420,395 390,395 C340,395 305,340 302,270 C301,240 306,205 312,188 C305,175 288,175 280,190 C268,250 235,325 195,368 C170,390 130,388 108,365 C80,335 80,270 100,195 C112,150 135,105 160,72 C160,65 155,60 150,60 Z" fill="#000" stroke="#000" stroke-width="0" stroke-linejoin="round"/></g><rect x="698.90" y="378.85" width="37.50" height="1.50" fill="#000"/>
<g transform="translate(549.783,226.819) scale(0.05845)"><path d="M150,60 C142,55 130,60 125,68 C85,130 45,240 45,315 C45,385 90,428 150,428 C205,428 250,385 272,325 C280,385 320,430 380,430 C460,430 530,300 548,160 C555,95 540,55 512,52 C480,50 458,80 470,105 C480,122 500,118 505,135 C520,180 510,250 480,310 C450,365 420,395 390,395 C340,395 305,340 302,270 C301,240 306,205 312,188 C305,175 288,175 280,190 C268,250 235,325 195,368 C170,390 130,388 108,365 C80,335 80,270 100,195 C112,150 135,105 160,72 C160,65 155,60 150,60 Z" fill="#000" stroke="#000" stroke-width="3.0" stroke-linejoin="round"/></g><rect x="552.30" y="222.28" width="32.55" height="1.45" fill="#000"/>
</svg>
</body></html>
